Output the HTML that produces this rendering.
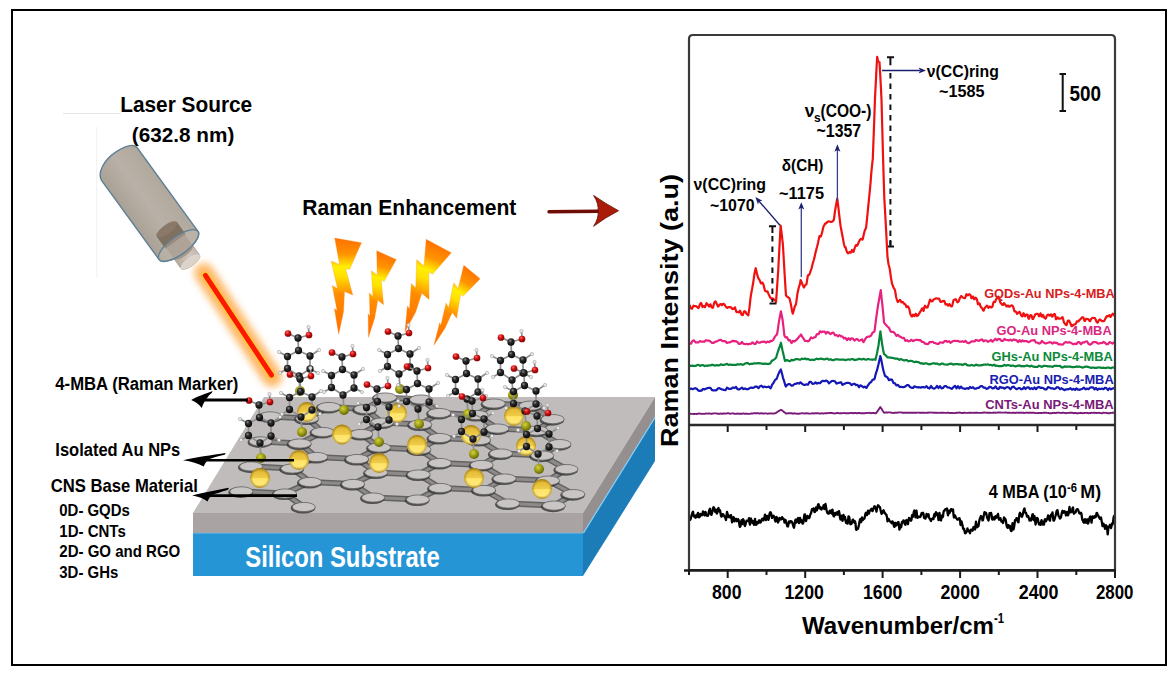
<!DOCTYPE html>
<html><head><meta charset="utf-8"><title>SERS schematic</title>
<style>html,body{margin:0;padding:0;background:#fff;} svg{display:block;}</style>
</head><body>
<svg width="1176" height="675" viewBox="0 0 1176 675" font-family="Liberation Sans, sans-serif" font-weight="bold">
<defs><linearGradient id="cyl" x1="0" y1="0" x2="1" y2="0">
<stop offset="0" stop-color="#aaa196"/><stop offset="0.5" stop-color="#b9b1a7"/><stop offset="1" stop-color="#b1a89d"/></linearGradient>
<linearGradient id="noz" x1="0" y1="0" x2="1" y2="0">
<stop offset="0" stop-color="#b8aca0"/><stop offset="0.6" stop-color="#cfc6bd"/><stop offset="1" stop-color="#c4bab0"/></linearGradient>
<radialGradient id="glow" cx="0.5" cy="0.5" r="0.5"><stop offset="0" stop-color="#ffb050" stop-opacity="0.9"/><stop offset="1" stop-color="#ffd8a8" stop-opacity="0"/></radialGradient>
<filter id="blur4" x="-50%" y="-50%" width="200%" height="200%"><feGaussianBlur stdDeviation="3.5"/></filter>
<filter id="blur1" x="-50%" y="-50%" width="200%" height="200%"><feGaussianBlur stdDeviation="0.8"/></filter>
<linearGradient id="bolt" x1="0" y1="0" x2="0" y2="1">
<stop offset="0" stop-color="#ff7000"/><stop offset="0.17" stop-color="#ff9400"/><stop offset="0.3" stop-color="#fff000"/><stop offset="0.4" stop-color="#ffe000"/><stop offset="0.58" stop-color="#ff8c00"/><stop offset="1" stop-color="#ff6c00"/></linearGradient><clipPath id="latclip"><polygon points="270,396 566,396 600,496 570,512 240,507 229,482"/></clipPath><linearGradient id="gold" x1="0" y1="0" x2="0" y2="1">
<stop offset="0" stop-color="#c49a20"/><stop offset="0.2" stop-color="#e4bc38"/><stop offset="0.5" stop-color="#efcc48"/><stop offset="0.53" stop-color="#ffe468"/><stop offset="0.85" stop-color="#ffe878"/><stop offset="1" stop-color="#dcb440"/></linearGradient>
<radialGradient id="goldrim" cx="0.5" cy="0.5" r="0.5"><stop offset="0.7" stop-color="#8a6608" stop-opacity="0"/><stop offset="1" stop-color="#7a5a08" stop-opacity="0.55"/></radialGradient>
<radialGradient id="sul" cx="0.4" cy="0.35" r="0.7"><stop offset="0" stop-color="#d4d43a"/><stop offset="0.6" stop-color="#8f9010"/><stop offset="1" stop-color="#5a5a08"/></radialGradient>
<radialGradient id="carb" cx="0.38" cy="0.32" r="0.75"><stop offset="0" stop-color="#8a8a8a"/><stop offset="0.35" stop-color="#2a2a2a"/><stop offset="1" stop-color="#050505"/></radialGradient>
<radialGradient id="oxy" cx="0.38" cy="0.32" r="0.75"><stop offset="0" stop-color="#ff7070"/><stop offset="0.4" stop-color="#d01010"/><stop offset="1" stop-color="#700000"/></radialGradient>
</defs>
<rect width="1176" height="675" fill="#fff"/>
<rect x="12" y="10" width="1154" height="655" fill="none" stroke="#000" stroke-width="2"/>
<polyline points="689.5,413.8 690.0,413.8 690.5,413.8 691.0,413.9 691.5,413.9 692.0,413.9 692.5,413.9 693.0,413.9 693.5,414.0 694.0,414.0 694.5,414.0 695.0,413.9 695.5,413.9 696.0,413.9 696.5,414.0 697.0,414.0 697.5,413.8 698.0,413.6 698.5,413.5 699.0,413.5 699.5,413.6 700.0,413.6 700.5,413.7 701.0,413.8 701.5,413.9 702.0,413.9 702.5,413.9 703.0,413.8 703.5,413.9 704.0,413.9 704.5,413.9 705.0,413.8 705.5,413.6 706.0,413.5 706.5,413.5 707.0,413.6 707.5,413.6 708.0,413.6 708.5,413.5 709.0,413.5 709.5,413.5 710.0,413.6 710.5,413.6 711.0,413.7 711.5,413.7 712.0,413.7 712.5,413.6 713.0,413.5 713.5,413.4 714.0,413.4 714.5,413.4 715.0,413.4 715.5,413.4 716.0,413.4 716.5,413.4 717.0,413.6 717.5,413.7 718.0,413.8 718.5,413.8 719.0,413.8 719.5,413.8 720.0,413.7 720.5,413.6 721.0,413.5 721.5,413.6 722.0,413.7 722.5,413.8 723.0,413.7 723.5,413.5 724.0,413.4 724.5,413.5 725.0,413.6 725.5,413.6 726.0,413.6 726.5,413.5 727.0,413.4 727.5,413.3 728.0,413.3 728.5,413.3 729.0,413.4 729.5,413.6 730.0,413.7 730.5,413.6 731.0,413.6 731.5,413.5 732.0,413.4 732.5,413.4 733.0,413.4 733.5,413.5 734.0,413.7 734.5,413.8 735.0,413.8 735.5,413.9 736.0,413.9 736.5,413.8 737.0,413.6 737.5,413.5 738.0,413.6 738.5,413.7 739.0,413.8 739.5,413.8 740.0,413.7 740.5,413.7 741.0,413.7 741.5,413.7 742.0,413.7 742.5,413.6 743.0,413.5 743.5,413.4 744.0,413.6 744.5,413.7 745.0,413.8 745.5,413.8 746.0,413.8 746.5,413.7 747.0,413.8 747.5,413.8 748.0,413.9 748.5,413.9 749.0,413.9 749.5,413.9 750.0,413.8 750.5,413.6 751.0,413.5 751.5,413.5 752.0,413.5 752.5,413.5 753.0,413.4 753.5,413.4 754.0,413.3 754.5,413.3 755.0,413.3 755.5,413.3 756.0,413.3 756.5,413.2 757.0,413.2 757.5,413.3 758.0,413.3 758.5,413.3 759.0,413.4 759.5,413.5 760.0,413.5 760.5,413.4 761.0,413.3 761.5,413.2 762.0,413.3 762.5,413.5 763.0,413.6 763.5,413.5 764.0,413.5 764.5,413.4 765.0,413.4 765.5,413.4 766.0,413.4 766.5,413.5 767.0,413.6 767.5,413.7 768.0,413.6 768.5,413.6 769.0,413.5 769.5,413.5 770.0,413.5 770.5,413.4 771.0,413.4 771.5,413.4 772.0,413.5 772.5,413.5 773.0,413.6 773.5,413.6 774.0,413.5 774.5,413.4 775.0,413.3 775.5,413.1 776.0,412.9 776.5,412.7 777.0,412.3 777.5,411.8 778.0,411.3 778.5,411.1 779.0,410.8 779.5,410.6 780.0,410.3 780.5,410.0 780.9,409.8 781.0,409.9 781.5,410.1 782.0,410.4 782.5,410.6 783.0,411.1 783.5,411.6 784.0,412.1 784.5,412.4 785.0,412.7 785.5,413.1 786.0,413.5 786.5,413.5 787.0,413.5 787.5,413.4 788.0,413.3 788.5,413.2 789.0,413.2 789.5,413.2 790.0,413.1 790.5,413.2 791.0,413.2 791.5,413.2 792.0,413.3 792.5,413.5 793.0,413.7 793.5,413.6 794.0,413.4 794.5,413.3 795.0,413.4 795.5,413.5 796.0,413.6 796.5,413.6 797.0,413.7 797.5,413.7 798.0,413.7 798.5,413.8 799.0,413.8 799.5,413.6 800.0,413.5 800.5,413.4 801.0,413.4 801.5,413.4 802.0,413.3 802.5,413.3 803.0,413.4 803.5,413.4 804.0,413.4 804.5,413.5 805.0,413.6 805.5,413.4 806.0,413.3 806.5,413.2 807.0,413.3 807.5,413.4 808.0,413.5 808.5,413.5 809.0,413.5 809.5,413.6 810.0,413.6 810.5,413.6 811.0,413.6 811.5,413.5 812.0,413.3 812.5,413.1 813.0,413.3 813.5,413.4 814.0,413.6 814.5,413.4 815.0,413.3 815.5,413.1 816.0,413.2 816.5,413.2 817.0,413.2 817.5,413.2 818.0,413.3 818.5,413.4 819.0,413.4 819.5,413.5 820.0,413.6 820.5,413.5 821.0,413.4 821.5,413.3 822.0,413.4 822.5,413.5 823.0,413.5 823.5,413.5 824.0,413.4 824.5,413.4 825.0,413.3 825.5,413.2 826.0,413.2 826.5,413.2 827.0,413.2 827.5,413.1 828.0,413.1 828.5,413.1 829.0,413.0 829.5,413.0 830.0,413.0 830.5,412.9 831.0,412.9 831.5,413.0 832.0,413.0 832.5,413.1 833.0,413.2 833.5,413.3 834.0,413.4 834.5,413.4 835.0,413.5 835.5,413.4 836.0,413.2 836.5,413.1 837.0,413.0 837.5,413.0 838.0,412.9 838.5,413.1 839.0,413.2 839.5,413.4 840.0,413.4 840.5,413.3 841.0,413.3 841.5,413.2 842.0,413.2 842.5,413.1 843.0,413.1 843.5,413.1 844.0,413.0 844.5,413.1 845.0,413.1 845.5,413.2 846.0,413.2 846.5,413.3 847.0,413.4 847.5,413.3 848.0,413.2 848.5,413.2 849.0,413.2 849.5,413.1 850.0,413.1 850.5,413.0 851.0,412.9 851.5,412.9 852.0,413.0 852.5,413.2 853.0,413.3 853.5,413.2 854.0,413.0 854.5,412.9 855.0,412.9 855.5,413.0 856.0,413.0 856.5,413.1 857.0,413.2 857.5,413.3 858.0,413.2 858.5,413.0 859.0,412.9 859.5,413.0 860.0,413.1 860.5,413.2 861.0,413.2 861.5,413.3 862.0,413.4 862.5,413.3 863.0,413.3 863.5,413.2 864.0,413.2 864.5,413.3 865.0,413.3 865.5,413.1 866.0,413.0 866.5,412.9 867.0,412.9 867.5,412.9 868.0,413.0 868.5,412.9 869.0,412.9 869.5,412.8 870.0,412.9 870.5,413.1 871.0,413.2 871.5,413.1 872.0,413.0 872.5,412.9 873.0,412.9 873.5,413.0 874.0,413.0 874.5,413.1 875.0,413.2 875.5,413.3 876.0,413.3 876.5,412.6 877.0,411.9 877.5,411.2 878.0,410.5 878.5,409.9 879.0,409.1 879.5,408.3 880.0,407.5 880.3,407.1 880.5,407.3 881.0,408.1 881.5,408.8 882.0,409.6 882.5,410.4 883.0,411.2 883.5,411.9 884.0,412.7 884.5,412.6 885.0,412.6 885.5,412.5 886.0,412.5 886.5,412.5 887.0,412.5 887.5,412.5 888.0,412.5 888.5,412.4 889.0,412.4 889.5,412.4 890.0,412.4 890.5,412.5 891.0,412.6 891.5,412.7 892.0,412.9 892.5,412.9 893.0,412.9 893.5,413.0 894.0,412.9 894.5,412.8 895.0,412.8 895.5,412.7 896.0,412.7 896.5,412.7 897.0,412.6 897.5,412.6 898.0,412.5 898.5,412.5 899.0,412.4 899.5,412.4 900.0,412.4 900.5,412.4 901.0,412.4 901.5,412.5 902.0,412.6 902.5,412.8 903.0,412.8 903.5,412.8 904.0,412.9 904.5,412.8 905.0,412.7 905.5,412.6 906.0,412.7 906.5,412.7 907.0,412.8 907.5,412.8 908.0,412.8 908.5,412.8 909.0,412.8 909.5,412.8 910.0,412.8 910.5,412.8 911.0,412.8 911.5,412.8 912.0,412.8 912.5,412.8 913.0,412.8 913.5,412.8 914.0,412.7 914.5,412.6 915.0,412.7 915.5,412.7 916.0,412.8 916.5,412.7 917.0,412.6 917.5,412.6 918.0,412.6 918.5,412.6 919.0,412.6 919.5,412.7 920.0,412.8 920.5,412.8 921.0,412.8 921.5,412.8 922.0,412.8 922.5,412.7 923.0,412.7 923.5,412.6 924.0,412.7 924.5,412.8 925.0,412.9 925.5,412.9 926.0,412.9 926.5,412.8 927.0,412.8 927.5,412.8 928.0,412.8 928.5,412.6 929.0,412.5 929.5,412.4 930.0,412.5 930.5,412.6 931.0,412.6 931.5,412.6 932.0,412.6 932.5,412.5 933.0,412.6 933.5,412.7 934.0,412.7 934.5,412.7 935.0,412.7 935.5,412.7 936.0,412.7 936.5,412.8 937.0,412.9 937.5,412.9 938.0,412.8 938.5,412.8 939.0,412.9 939.5,412.9 940.0,412.9 940.5,412.8 941.0,412.7 941.5,412.7 942.0,412.7 942.5,412.7 943.0,412.8 943.5,412.8 944.0,412.8 944.5,412.9 945.0,412.9 945.5,412.9 946.0,412.9 946.5,412.9 947.0,412.8 947.5,412.7 948.0,412.8 948.5,412.8 949.0,412.9 949.5,412.9 950.0,413.0 950.5,413.0 951.0,413.0 951.5,412.9 952.0,412.9 952.5,412.9 953.0,413.0 953.5,413.1 954.0,413.1 954.5,413.1 955.0,413.1 955.5,413.0 956.0,412.9 956.5,412.8 957.0,412.8 957.5,412.8 958.0,412.8 958.5,412.7 959.0,412.6 959.5,412.5 960.0,412.7 960.5,412.8 961.0,412.9 961.5,412.9 962.0,413.0 962.5,413.0 963.0,413.0 963.5,412.9 964.0,412.8 964.5,412.8 965.0,412.8 965.5,412.9 966.0,412.9 966.5,412.9 967.0,412.9 967.5,412.9 968.0,412.9 968.5,412.9 969.0,412.8 969.5,412.7 970.0,412.6 970.5,412.7 971.0,412.8 971.5,412.9 972.0,412.9 972.5,412.9 973.0,412.8 973.5,412.8 974.0,412.9 974.5,412.9 975.0,412.8 975.5,412.8 976.0,412.7 976.5,412.8 977.0,412.8 977.5,412.8 978.0,412.9 978.5,412.9 979.0,412.9 979.5,412.9 980.0,412.9 980.5,412.9 981.0,412.9 981.5,412.9 982.0,412.9 982.5,412.8 983.0,412.7 983.5,412.5 984.0,412.5 984.5,412.5 985.0,412.5 985.5,412.6 986.0,412.6 986.5,412.7 987.0,412.7 987.5,412.8 988.0,412.8 988.5,412.8 989.0,412.7 989.5,412.6 990.0,412.7 990.5,412.8 991.0,412.9 991.5,412.9 992.0,412.9 992.5,412.9 993.0,412.8 993.5,412.7 994.0,412.5 994.5,412.6 995.0,412.7 995.5,412.7 996.0,412.7 996.5,412.6 997.0,412.6 997.5,412.6 998.0,412.5 998.5,412.5 999.0,412.5 999.5,412.5 1000.0,412.5 1000.5,412.5 1001.0,412.6 1001.5,412.6 1002.0,412.6 1002.5,412.6 1003.0,412.6 1003.5,412.6 1004.0,412.6 1004.5,412.6 1005.0,412.5 1005.5,412.5 1006.0,412.5 1006.5,412.6 1007.0,412.6 1007.5,412.7 1008.0,412.7 1008.5,412.7 1009.0,412.7 1009.5,412.8 1010.0,412.8 1010.5,412.9 1011.0,412.9 1011.5,412.9 1012.0,412.9 1012.5,412.8 1013.0,412.8 1013.5,412.7 1014.0,412.8 1014.5,412.9 1015.0,413.0 1015.5,412.9 1016.0,412.7 1016.5,412.6 1017.0,412.6 1017.5,412.7 1018.0,412.7 1018.5,412.7 1019.0,412.7 1019.5,412.7 1020.0,412.7 1020.5,412.7 1021.0,412.7 1021.5,412.7 1022.0,412.6 1022.5,412.6 1023.0,412.7 1023.5,412.8 1024.0,413.0 1024.5,412.9 1025.0,412.9 1025.5,412.8 1026.0,412.7 1026.5,412.6 1027.0,412.6 1027.5,412.7 1028.0,412.8 1028.5,412.8 1029.0,412.8 1029.5,412.7 1030.0,412.6 1030.5,412.7 1031.0,412.8 1031.5,412.8 1032.0,412.8 1032.5,412.8 1033.0,412.8 1033.5,412.8 1034.0,412.8 1034.5,412.9 1035.0,413.0 1035.5,413.1 1036.0,413.1 1036.5,413.1 1037.0,413.1 1037.5,413.1 1038.0,413.0 1038.5,413.0 1039.0,412.9 1039.5,412.9 1040.0,413.0 1040.5,413.1 1041.0,413.0 1041.5,413.0 1042.0,413.0 1042.5,412.9 1043.0,412.9 1043.5,412.8 1044.0,412.8 1044.5,412.7 1045.0,412.7 1045.5,412.7 1046.0,412.8 1046.5,412.9 1047.0,412.9 1047.5,412.9 1048.0,412.9 1048.5,413.0 1049.0,413.1 1049.5,413.2 1050.0,413.2 1050.5,413.2 1051.0,413.2 1051.5,413.2 1052.0,413.1 1052.5,413.0 1053.0,413.0 1053.5,412.9 1054.0,412.8 1054.5,412.9 1055.0,413.0 1055.5,413.1 1056.0,413.0 1056.5,412.8 1057.0,412.7 1057.5,412.6 1058.0,412.6 1058.5,412.6 1059.0,412.7 1059.5,412.8 1060.0,412.9 1060.5,412.9 1061.0,412.9 1061.5,413.0 1062.0,412.9 1062.5,412.8 1063.0,412.7 1063.5,412.8 1064.0,412.9 1064.5,412.9 1065.0,413.0 1065.5,413.1 1066.0,413.2 1066.5,413.1 1067.0,413.0 1067.5,412.9 1068.0,412.9 1068.5,412.9 1069.0,412.9 1069.5,412.8 1070.0,412.8 1070.5,412.7 1071.0,412.8 1071.5,412.8 1072.0,412.8 1072.5,412.9 1073.0,413.0 1073.5,413.2 1074.0,413.1 1074.5,413.0 1075.0,412.9 1075.5,413.0 1076.0,413.1 1076.5,413.2 1077.0,413.2 1077.5,413.2 1078.0,413.3 1078.5,413.2 1079.0,413.1 1079.5,413.1 1080.0,413.0 1080.5,412.9 1081.0,412.8 1081.5,413.0 1082.0,413.1 1082.5,413.2 1083.0,413.1 1083.5,413.1 1084.0,413.0 1084.5,413.0 1085.0,412.9 1085.5,412.9 1086.0,412.9 1086.5,412.9 1087.0,412.8 1087.5,413.0 1088.0,413.1 1088.5,413.2 1089.0,413.1 1089.5,413.1 1090.0,413.0 1090.5,413.0 1091.0,412.9 1091.5,412.8 1092.0,412.9 1092.5,412.9 1093.0,412.9 1093.5,412.9 1094.0,412.8 1094.5,412.7 1095.0,412.8 1095.5,412.9 1096.0,413.0 1096.5,413.0 1097.0,413.0 1097.5,412.9 1098.0,412.9 1098.5,412.9 1099.0,412.8 1099.5,412.9 1100.0,413.0 1100.5,413.1 1101.0,413.1 1101.5,413.2 1102.0,413.2 1102.5,413.1 1103.0,412.9 1103.5,412.7 1104.0,412.8 1104.5,412.9 1105.0,412.9 1105.5,412.9 1106.0,412.9 1106.5,412.8 1107.0,413.0 1107.5,413.1 1108.0,413.2 1108.5,413.2 1109.0,413.2 1109.5,413.2 1110.0,413.1 1110.5,413.0 1111.0,412.9 1111.5,412.9 1112.0,412.9 1112.5,412.8 1113.0,412.8 1113.5,412.8 1114.0,412.8 1114.5,412.9" fill="none" stroke="#7a1a78" stroke-width="1.9" stroke-linejoin="round"/>
<polyline points="689.5,389.2 690.0,389.0 690.5,388.8 691.0,388.5 691.5,388.8 692.0,389.0 692.5,389.2 693.0,389.0 693.5,388.8 694.0,388.6 694.5,388.5 695.0,388.3 695.5,388.2 696.0,388.4 696.5,388.7 697.0,389.0 697.5,389.6 698.0,390.2 698.5,390.7 699.0,390.7 699.5,390.8 700.0,390.8 700.5,390.7 701.0,390.7 701.5,390.6 702.0,390.1 702.5,389.5 703.0,388.9 703.5,389.1 704.0,389.2 704.5,389.4 705.0,389.2 705.5,388.9 706.0,388.7 706.5,388.5 707.0,388.3 707.5,388.2 708.0,388.0 708.5,387.9 709.0,387.8 709.5,387.9 710.0,387.9 710.5,388.0 711.0,388.7 711.5,389.4 712.0,390.1 712.5,390.2 713.0,390.3 713.5,390.3 714.0,390.3 714.5,390.3 715.0,390.3 715.5,390.3 716.0,390.2 716.5,390.2 717.0,389.6 717.5,388.9 718.0,388.3 718.5,388.3 719.0,388.2 719.5,388.2 720.0,388.4 720.5,388.7 721.0,389.0 721.5,389.2 722.0,389.4 722.5,389.5 723.0,389.7 723.5,389.8 724.0,390.0 724.5,390.0 725.0,390.1 725.5,390.1 726.0,389.3 726.5,388.5 727.0,387.7 727.5,388.0 728.0,388.3 728.5,388.7 729.0,388.8 729.5,388.9 730.0,389.0 730.5,388.9 731.0,388.7 731.5,388.6 732.0,388.2 732.5,387.8 733.0,387.5 733.5,387.6 734.0,387.8 734.5,388.0 735.0,387.7 735.5,387.3 736.0,387.0 736.5,387.7 737.0,388.5 737.5,389.2 738.0,389.3 738.5,389.4 739.0,389.5 739.5,389.2 740.0,388.9 740.5,388.6 741.0,388.3 741.5,387.9 742.0,387.6 742.5,388.1 743.0,388.6 743.5,389.1 744.0,388.9 744.5,388.7 745.0,388.4 745.5,388.7 746.0,388.9 746.5,389.2 747.0,389.2 747.5,389.2 748.0,389.2 748.5,388.9 749.0,388.5 749.5,388.2 750.0,388.0 750.5,387.8 751.0,387.6 751.5,387.7 752.0,387.8 752.5,387.9 753.0,387.8 753.5,387.6 754.0,387.5 754.5,387.2 755.0,386.8 755.5,386.5 756.0,386.6 756.5,386.6 757.0,386.7 757.5,387.2 758.0,387.7 758.5,388.2 759.0,387.5 759.5,386.9 760.0,386.2 760.5,386.0 761.0,385.9 761.5,385.7 762.0,386.2 762.5,386.7 763.0,387.3 763.5,387.0 764.0,386.8 764.5,386.6 765.0,386.8 765.5,386.9 766.0,387.1 766.5,387.1 767.0,387.1 767.5,387.0 768.0,386.9 768.5,386.7 769.0,386.6 769.5,387.2 770.0,387.8 770.5,388.4 771.0,387.7 771.5,386.3 772.0,384.9 772.5,384.2 773.0,383.5 773.5,382.8 774.0,381.9 774.5,381.0 775.0,380.0 775.5,379.6 776.0,379.3 776.5,378.9 777.0,377.9 777.5,376.5 778.0,375.1 778.5,373.9 779.0,372.8 779.5,371.6 780.0,370.9 780.5,370.1 780.9,369.5 781.0,370.0 781.5,371.8 782.0,373.7 782.5,375.5 783.0,377.8 783.5,379.3 784.0,380.7 784.5,382.5 785.0,384.2 785.5,385.9 786.0,386.5 786.5,385.7 787.0,385.0 787.5,384.7 788.0,384.4 788.5,384.1 789.0,384.1 789.5,384.2 790.0,384.2 790.5,384.7 791.0,385.2 791.5,385.7 792.0,385.6 792.5,385.5 793.0,385.4 793.5,384.9 794.0,384.5 794.5,384.0 795.0,383.9 795.5,383.9 796.0,383.8 796.5,383.6 797.0,383.3 797.5,383.1 798.0,383.3 798.5,383.4 799.0,383.6 799.5,383.2 800.0,382.7 800.5,382.3 801.0,382.8 801.5,383.3 802.0,383.8 802.5,384.1 803.0,384.4 803.5,384.7 804.0,384.8 804.5,384.9 805.0,385.0 805.5,384.8 806.0,384.6 806.5,384.3 807.0,384.5 807.5,384.6 808.0,384.7 808.5,383.8 809.0,382.9 809.5,381.9 810.0,381.9 810.5,381.9 811.0,381.9 811.5,382.6 812.0,383.2 812.5,383.9 813.0,383.8 813.5,383.7 814.0,383.7 814.5,383.3 815.0,382.9 815.5,382.4 816.0,382.8 816.5,383.2 817.0,383.6 817.5,383.4 818.0,383.1 818.5,382.9 819.0,383.0 819.5,383.1 820.0,383.2 820.5,382.6 821.0,382.1 821.5,381.6 822.0,381.3 822.5,381.0 823.0,380.8 823.5,380.9 824.0,381.1 824.5,381.2 825.0,380.9 825.5,380.7 826.0,380.5 826.5,380.8 827.0,381.0 827.5,381.3 828.0,382.0 828.5,382.6 829.0,383.3 829.5,382.9 830.0,382.5 830.5,382.1 831.0,381.7 831.5,381.3 832.0,381.0 832.5,381.0 833.0,380.9 833.5,380.9 834.0,381.1 834.5,381.3 835.0,381.4 835.5,382.1 836.0,382.8 836.5,383.6 837.0,383.4 837.5,383.2 838.0,383.0 838.5,382.9 839.0,382.8 839.5,382.7 840.0,382.6 840.5,382.4 841.0,382.2 841.5,383.1 842.0,384.0 842.5,384.9 843.0,384.6 843.5,384.3 844.0,384.1 844.5,383.8 845.0,383.6 845.5,383.3 846.0,383.2 846.5,383.0 847.0,382.9 847.5,382.9 848.0,382.9 848.5,382.9 849.0,383.0 849.5,383.2 850.0,383.3 850.5,383.9 851.0,384.5 851.5,385.1 852.0,384.8 852.5,384.5 853.0,384.1 853.5,384.0 854.0,383.9 854.5,383.7 855.0,384.2 855.5,384.6 856.0,385.1 856.5,385.0 857.0,384.9 857.5,384.9 858.0,385.6 858.5,386.4 859.0,387.2 859.5,386.6 860.0,385.9 860.5,385.3 861.0,385.6 861.5,385.9 862.0,386.2 862.5,386.5 863.0,386.9 863.5,387.3 864.0,387.0 864.5,386.8 865.0,386.6 865.5,387.2 866.0,387.7 866.5,387.8 867.0,387.0 867.5,386.2 868.0,385.4 868.5,384.6 869.0,383.9 869.5,383.1 870.0,382.8 870.5,382.5 871.0,382.1 871.5,381.3 872.0,380.6 872.5,379.8 873.0,379.7 873.5,379.5 874.0,379.4 874.5,378.9 874.6,378.8 875.0,377.0 875.5,374.8 876.0,373.2 876.5,371.7 877.0,370.2 877.5,368.2 878.0,366.1 878.5,364.3 879.0,362.0 879.5,359.7 880.0,357.5 880.3,356.0 880.5,356.8 881.0,358.8 881.5,360.9 882.0,363.6 882.5,366.3 883.0,368.9 883.5,370.7 884.0,372.5 884.5,374.2 885.0,375.9 885.5,376.2 886.0,376.5 886.5,376.8 887.0,377.1 887.5,377.4 888.0,378.4 888.5,379.3 889.0,380.2 889.5,380.0 890.0,379.7 890.5,379.4 891.0,379.5 891.5,379.6 892.0,379.6 892.5,380.8 893.0,381.9 893.5,383.0 894.0,383.1 894.5,383.3 895.0,383.4 895.5,384.1 896.0,384.8 896.5,385.5 897.0,385.3 897.5,385.1 898.0,384.9 898.5,385.6 899.0,386.3 899.5,386.9 900.0,387.1 900.5,386.9 901.0,386.8 901.5,386.9 902.0,387.0 902.5,387.1 903.0,387.1 903.5,387.1 904.0,387.1 904.5,386.9 905.0,386.6 905.5,386.4 906.0,385.9 906.5,385.5 907.0,385.0 907.5,385.0 908.0,385.1 908.5,385.1 909.0,385.8 909.5,386.4 910.0,387.1 910.5,387.3 911.0,387.5 911.5,387.7 912.0,387.8 912.5,387.9 913.0,388.0 913.5,387.4 914.0,386.9 914.5,386.3 915.0,386.5 915.5,386.7 916.0,386.9 916.5,387.1 917.0,387.3 917.5,387.5 918.0,387.4 918.5,387.3 919.0,387.2 919.5,387.4 920.0,387.5 920.5,387.7 921.0,387.5 921.5,387.2 922.0,387.0 922.5,387.1 923.0,387.1 923.5,387.2 924.0,387.3 924.5,387.3 925.0,387.4 925.5,387.0 926.0,386.6 926.5,386.2 927.0,386.8 927.5,387.4 928.0,387.9 928.5,388.1 929.0,388.3 929.5,388.5 930.0,387.7 930.5,386.8 931.0,386.0 931.5,386.7 932.0,387.4 932.5,388.1 933.0,388.3 933.5,388.5 934.0,388.6 934.5,388.4 935.0,388.2 935.5,387.9 936.0,387.2 936.5,386.6 937.0,385.9 937.5,386.6 938.0,387.3 938.5,388.0 939.0,387.4 939.5,386.8 940.0,386.2 940.5,386.9 941.0,387.6 941.5,388.3 942.0,388.2 942.5,388.1 943.0,388.0 943.5,387.4 944.0,386.8 944.5,386.1 945.0,386.1 945.5,386.0 946.0,386.0 946.5,386.5 947.0,386.9 947.5,387.4 948.0,387.5 948.5,387.5 949.0,387.6 949.5,387.8 950.0,388.0 950.5,388.2 951.0,388.4 951.5,388.7 952.0,388.9 952.5,388.3 953.0,387.6 953.5,387.0 954.0,386.6 954.5,386.2 955.0,385.8 955.5,386.7 956.0,387.5 956.5,388.3 957.0,387.6 957.5,386.9 958.0,386.2 958.5,386.9 959.0,387.6 959.5,388.3 960.0,387.7 960.5,387.1 961.0,386.6 961.5,387.1 962.0,387.7 962.5,388.2 963.0,388.3 963.5,388.4 964.0,388.6 964.5,388.7 965.0,388.8 965.5,388.9 966.0,388.6 966.5,388.4 967.0,388.1 967.5,388.3 968.0,388.6 968.5,388.8 969.0,388.2 969.5,387.6 970.0,387.0 970.5,387.3 971.0,387.7 971.5,388.0 972.0,387.7 972.5,387.5 973.0,387.2 973.5,387.7 974.0,388.2 974.5,388.7 975.0,388.7 975.5,388.7 976.0,388.7 976.5,388.4 977.0,388.1 977.5,387.9 978.0,387.8 978.5,387.8 979.0,387.8 979.5,387.3 980.0,386.8 980.5,386.3 981.0,386.2 981.5,386.1 982.0,386.0 982.5,386.5 983.0,387.0 983.5,387.6 984.0,387.6 984.5,387.6 985.0,387.7 985.5,388.1 986.0,388.4 986.5,388.8 987.0,388.7 987.5,388.5 988.0,388.4 988.5,387.9 989.0,387.4 989.5,386.8 990.0,386.9 990.5,387.1 991.0,387.2 991.5,387.6 992.0,388.0 992.5,388.5 993.0,388.3 993.5,388.2 994.0,388.1 994.5,387.5 995.0,387.0 995.5,386.4 996.0,387.1 996.5,387.8 997.0,388.5 997.5,388.7 998.0,388.9 998.5,389.0 999.0,388.3 999.5,387.6 1000.0,386.9 1000.5,387.2 1001.0,387.5 1001.5,387.8 1002.0,387.7 1002.5,387.6 1003.0,387.5 1003.5,387.9 1004.0,388.3 1004.5,388.7 1005.0,388.3 1005.5,387.9 1006.0,387.6 1006.5,387.4 1007.0,387.2 1007.5,387.1 1008.0,387.3 1008.5,387.5 1009.0,387.7 1009.5,388.2 1010.0,388.8 1010.5,389.3 1011.0,388.6 1011.5,387.9 1012.0,387.1 1012.5,387.0 1013.0,386.8 1013.5,386.6 1014.0,387.1 1014.5,387.6 1015.0,388.0 1015.5,388.4 1016.0,388.8 1016.5,389.2 1017.0,388.9 1017.5,388.7 1018.0,388.4 1018.5,388.2 1019.0,388.1 1019.5,388.0 1020.0,388.3 1020.5,388.7 1021.0,389.1 1021.5,389.2 1022.0,389.2 1022.5,389.2 1023.0,388.5 1023.5,387.8 1024.0,387.1 1024.5,387.7 1025.0,388.4 1025.5,389.0 1026.0,388.5 1026.5,388.0 1027.0,387.5 1027.5,387.4 1028.0,387.4 1028.5,387.4 1029.0,387.9 1029.5,388.5 1030.0,389.0 1030.5,388.7 1031.0,388.4 1031.5,388.2 1032.0,388.5 1032.5,388.8 1033.0,389.1 1033.5,388.5 1034.0,388.0 1034.5,387.4 1035.0,388.0 1035.5,388.6 1036.0,389.2 1036.5,388.6 1037.0,388.1 1037.5,387.5 1038.0,387.3 1038.5,387.2 1039.0,387.0 1039.5,387.3 1040.0,387.6 1040.5,388.0 1041.0,387.9 1041.5,387.8 1042.0,387.7 1042.5,387.9 1043.0,388.1 1043.5,388.3 1044.0,388.7 1044.5,389.1 1045.0,389.5 1045.5,389.4 1046.0,389.4 1046.5,389.3 1047.0,388.5 1047.5,387.8 1048.0,387.1 1048.5,387.2 1049.0,387.4 1049.5,387.5 1050.0,387.8 1050.5,388.0 1051.0,388.3 1051.5,388.3 1052.0,388.3 1052.5,388.3 1053.0,388.6 1053.5,388.8 1054.0,389.0 1054.5,388.9 1055.0,388.7 1055.5,388.5 1056.0,388.1 1056.5,387.6 1057.0,387.2 1057.5,387.3 1058.0,387.3 1058.5,387.4 1059.0,388.0 1059.5,388.6 1060.0,389.2 1060.5,388.9 1061.0,388.6 1061.5,388.2 1062.0,388.6 1062.5,388.9 1063.0,389.2 1063.5,389.5 1064.0,389.8 1064.5,390.2 1065.0,389.9 1065.5,389.6 1066.0,389.3 1066.5,389.3 1067.0,389.3 1067.5,389.3 1068.0,389.2 1068.5,389.1 1069.0,389.1 1069.5,388.8 1070.0,388.4 1070.5,388.1 1071.0,388.7 1071.5,389.2 1072.0,389.7 1072.5,389.4 1073.0,389.1 1073.5,388.8 1074.0,389.2 1074.5,389.5 1075.0,389.9 1075.5,389.4 1076.0,388.9 1076.5,388.4 1077.0,388.8 1077.5,389.2 1078.0,389.7 1078.5,389.7 1079.0,389.7 1079.5,389.8 1080.0,389.6 1080.5,389.5 1081.0,389.3 1081.5,389.1 1082.0,388.9 1082.5,388.7 1083.0,388.3 1083.5,388.0 1084.0,387.6 1084.5,388.2 1085.0,388.7 1085.5,389.3 1086.0,389.0 1086.5,388.7 1087.0,388.5 1087.5,388.7 1088.0,388.9 1088.5,389.2 1089.0,388.7 1089.5,388.2 1090.0,387.8 1090.5,387.6 1091.0,387.4 1091.5,387.3 1092.0,387.3 1092.5,387.3 1093.0,387.3 1093.5,388.0 1094.0,388.7 1094.5,389.4 1095.0,388.9 1095.5,388.4 1096.0,388.0 1096.5,388.6 1097.0,389.2 1097.5,389.8 1098.0,389.5 1098.5,389.1 1099.0,388.7 1099.5,388.8 1100.0,388.9 1100.5,389.1 1101.0,388.9 1101.5,388.7 1102.0,388.5 1102.5,388.7 1103.0,388.9 1103.5,389.2 1104.0,388.7 1104.5,388.2 1105.0,387.7 1105.5,387.9 1106.0,388.1 1106.5,388.3 1107.0,388.9 1107.5,389.5 1108.0,390.1 1108.5,389.5 1109.0,388.9 1109.5,388.3 1110.0,388.6 1110.5,388.9 1111.0,389.3 1111.5,389.0 1112.0,388.8 1112.5,388.5 1113.0,388.4 1113.5,388.4 1114.0,388.3 1114.5,388.0" fill="none" stroke="#1418b4" stroke-width="2.2" stroke-linejoin="round"/>
<polyline points="689.5,365.6 690.0,365.7 690.5,365.8 691.0,365.9 691.5,365.8 692.0,365.7 692.5,365.7 693.0,365.8 693.5,365.8 694.0,365.9 694.5,365.9 695.0,366.0 695.5,366.0 696.0,365.7 696.5,365.4 697.0,365.1 697.5,365.0 698.0,364.9 698.5,364.8 699.0,365.1 699.5,365.5 700.0,365.9 700.5,365.7 701.0,365.5 701.5,365.2 702.0,365.2 702.5,365.1 703.0,365.0 703.5,365.4 704.0,365.7 704.5,366.1 705.0,365.9 705.5,365.7 706.0,365.5 706.5,365.6 707.0,365.7 707.5,365.8 708.0,365.7 708.5,365.5 709.0,365.4 709.5,365.4 710.0,365.4 710.5,365.4 711.0,365.2 711.5,364.9 712.0,364.7 712.5,364.8 713.0,365.0 713.5,365.2 714.0,365.3 714.5,365.5 715.0,365.6 715.5,365.5 716.0,365.3 716.5,365.2 717.0,365.2 717.5,365.3 718.0,365.3 718.5,365.3 719.0,365.3 719.5,365.2 720.0,364.9 720.5,364.6 721.0,364.3 721.5,364.5 722.0,364.8 722.5,365.0 723.0,365.0 723.5,364.9 724.0,364.9 724.5,364.7 725.0,364.6 725.5,364.4 726.0,364.2 726.5,364.0 727.0,363.8 727.5,364.2 728.0,364.5 728.5,364.9 729.0,364.8 729.5,364.7 730.0,364.5 730.5,364.6 731.0,364.7 731.5,364.8 732.0,364.9 732.5,364.9 733.0,365.0 733.5,364.9 734.0,364.9 734.5,364.8 735.0,364.9 735.5,364.9 736.0,365.0 736.5,364.8 737.0,364.5 737.5,364.2 738.0,364.4 738.5,364.5 739.0,364.6 739.5,364.4 740.0,364.3 740.5,364.1 741.0,364.3 741.5,364.5 742.0,364.7 742.5,364.7 743.0,364.7 743.5,364.7 744.0,364.3 744.5,363.9 745.0,363.5 745.5,363.4 746.0,363.3 746.5,363.2 747.0,363.2 747.5,363.2 748.0,363.2 748.5,363.6 749.0,363.9 749.5,364.3 750.0,364.1 750.5,363.9 751.0,363.7 751.5,363.8 752.0,363.8 752.5,363.8 753.0,363.7 753.5,363.5 754.0,363.3 754.5,363.4 755.0,363.4 755.5,363.5 756.0,363.4 756.5,363.4 757.0,363.3 757.5,363.3 758.0,363.2 758.5,363.2 759.0,363.2 759.5,363.3 760.0,363.4 760.5,363.4 761.0,363.4 761.5,363.5 762.0,363.6 762.5,363.8 763.0,363.9 763.5,363.8 764.0,363.7 764.5,363.6 765.0,363.7 765.5,363.8 766.0,363.9 766.5,363.9 767.0,363.8 767.5,363.8 768.0,363.9 768.5,363.9 769.0,364.0 769.5,363.8 770.0,363.6 770.5,363.0 771.0,362.2 771.5,361.4 772.0,360.6 772.5,360.4 773.0,360.2 773.5,359.9 774.0,359.6 774.5,359.2 775.0,358.8 775.5,358.3 776.0,357.8 776.5,356.3 777.0,354.6 777.5,353.0 778.0,351.3 778.5,349.8 779.0,348.4 779.5,347.1 780.0,345.5 780.5,344.0 780.9,342.7 781.0,343.1 781.5,345.5 782.0,348.0 782.5,350.4 783.0,352.5 783.5,354.7 784.0,356.8 784.5,358.9 785.0,360.9 785.5,360.7 786.0,360.5 786.5,360.2 787.0,360.0 787.5,360.3 788.0,360.6 788.5,360.9 789.0,361.0 789.5,361.1 790.0,361.2 790.5,360.7 791.0,360.2 791.5,359.8 792.0,360.0 792.5,360.2 793.0,360.3 793.5,360.2 794.0,360.0 794.5,359.8 795.0,359.5 795.5,359.3 796.0,359.1 796.5,359.1 797.0,359.0 797.5,359.0 798.0,359.2 798.5,359.4 799.0,359.5 799.5,359.6 800.0,359.6 800.5,359.7 801.0,359.2 801.5,358.9 802.0,358.5 802.5,358.7 803.0,358.9 803.5,359.1 804.0,358.9 804.5,358.6 805.0,358.4 805.5,358.7 806.0,359.0 806.5,359.3 807.0,359.2 807.5,359.0 808.0,358.9 808.5,359.2 809.0,359.4 809.5,359.7 810.0,359.8 810.5,359.9 811.0,360.1 811.5,359.9 812.0,359.7 812.5,359.5 813.0,359.7 813.5,359.9 814.0,360.1 814.5,359.8 815.0,359.5 815.5,359.2 816.0,359.0 816.5,358.8 817.0,358.7 817.5,358.9 818.0,359.1 818.5,359.3 819.0,359.1 819.5,358.9 820.0,358.7 820.5,358.7 821.0,358.7 821.5,358.8 822.0,358.9 822.5,359.0 823.0,359.1 823.5,359.2 824.0,359.4 824.5,359.5 825.0,359.3 825.5,359.1 826.0,358.9 826.5,358.8 827.0,358.7 827.5,358.6 828.0,359.0 828.5,359.4 829.0,359.8 829.5,359.6 830.0,359.4 830.5,359.2 831.0,359.5 831.5,359.8 832.0,360.1 832.5,360.1 833.0,360.1 833.5,360.2 834.0,359.9 834.5,359.7 835.0,359.4 835.5,359.4 836.0,359.4 836.5,359.4 837.0,359.4 837.5,359.4 838.0,359.4 838.5,359.5 839.0,359.6 839.5,359.7 840.0,359.6 840.5,359.6 841.0,359.6 841.5,359.6 842.0,359.6 842.5,359.6 843.0,359.6 843.5,359.6 844.0,359.7 844.5,359.8 845.0,360.0 845.5,360.2 846.0,360.0 846.5,359.8 847.0,359.6 847.5,359.6 848.0,359.5 848.5,359.4 849.0,359.5 849.5,359.6 850.0,359.8 850.5,359.6 851.0,359.4 851.5,359.1 852.0,359.1 852.5,359.1 853.0,359.1 853.5,359.4 854.0,359.7 854.5,360.1 855.0,359.9 855.5,359.8 856.0,359.7 856.5,359.6 857.0,359.6 857.5,359.6 858.0,359.3 858.5,359.0 859.0,358.8 859.5,358.9 860.0,359.0 860.5,359.2 861.0,359.3 861.5,359.4 862.0,359.5 862.5,359.3 863.0,359.0 863.5,358.8 864.0,359.0 864.5,359.2 865.0,359.5 865.5,359.5 866.0,359.6 866.5,359.7 867.0,359.4 867.5,359.1 868.0,358.9 868.5,359.1 869.0,359.3 869.5,359.5 870.0,359.5 870.5,359.5 871.0,359.5 871.5,359.6 872.0,359.7 872.5,359.8 873.0,359.6 873.5,359.5 874.0,359.3 874.5,359.5 875.0,359.6 875.5,359.8 876.0,357.6 876.5,355.4 877.0,353.2 877.5,350.6 878.0,348.0 878.5,345.4 879.0,341.6 879.5,337.9 880.0,334.1 880.4,331.4 880.5,332.2 881.0,335.9 881.5,339.6 882.0,343.3 882.5,346.2 883.0,349.2 883.5,351.7 884.0,354.1 884.5,354.2 885.0,354.7 885.5,355.2 886.0,355.6 886.5,356.1 887.0,356.7 887.5,357.2 888.0,357.5 888.5,357.5 889.0,357.4 889.5,357.5 890.0,357.6 890.5,357.7 891.0,357.7 891.5,357.8 892.0,357.8 892.5,357.9 893.0,358.0 893.5,358.1 894.0,358.3 894.5,358.5 895.0,358.7 895.5,358.7 896.0,358.7 896.5,358.6 897.0,358.7 897.5,358.8 898.0,358.9 898.5,359.2 899.0,359.5 899.5,359.8 900.0,359.5 900.5,359.3 901.0,359.1 901.5,359.3 902.0,359.6 902.5,359.9 903.0,360.1 903.5,360.3 904.0,360.5 904.5,360.4 905.0,360.3 905.5,360.2 906.0,360.2 906.5,360.2 907.0,360.2 907.5,360.6 908.0,360.9 908.5,361.3 909.0,361.1 909.5,361.0 910.0,360.9 910.5,360.9 911.0,360.9 911.5,360.9 912.0,361.1 912.5,361.3 913.0,361.5 913.5,361.7 914.0,361.9 914.5,362.2 915.0,362.0 915.5,361.8 916.0,361.7 916.5,361.8 917.0,361.9 917.5,362.0 918.0,362.1 918.5,362.2 919.0,362.3 919.5,362.7 920.0,363.0 920.5,363.4 921.0,363.3 921.5,363.3 922.0,363.2 922.5,363.5 923.0,363.7 923.5,364.0 924.0,363.8 924.5,363.6 925.0,363.3 925.5,363.4 926.0,363.4 926.5,363.4 927.0,363.6 927.5,363.7 928.0,363.9 928.5,364.1 929.0,364.2 929.5,364.4 930.0,364.2 930.5,364.1 931.0,363.9 931.5,363.8 932.0,363.6 932.5,363.5 933.0,363.4 933.5,363.3 934.0,363.2 934.5,363.4 935.0,363.6 935.5,363.8 936.0,363.7 936.5,363.6 937.0,363.5 937.5,363.8 938.0,364.1 938.5,364.3 939.0,364.4 939.5,364.5 940.0,364.6 940.5,364.3 941.0,364.0 941.5,363.7 942.0,363.7 942.5,363.7 943.0,363.7 943.5,364.0 944.0,364.2 944.5,364.5 945.0,364.5 945.5,364.5 946.0,364.5 946.5,364.6 947.0,364.7 947.5,364.7 948.0,364.5 948.5,364.3 949.0,364.1 949.5,364.0 950.0,363.8 950.5,363.7 951.0,363.7 951.5,363.8 952.0,363.9 952.5,364.1 953.0,364.4 953.5,364.7 954.0,364.5 954.5,364.3 955.0,364.1 955.5,364.1 956.0,364.1 956.5,364.1 957.0,364.2 957.5,364.2 958.0,364.2 958.5,364.3 959.0,364.3 959.5,364.3 960.0,364.3 960.5,364.3 961.0,364.3 961.5,364.6 962.0,364.9 962.5,365.1 963.0,364.8 963.5,364.5 964.0,364.2 964.5,364.1 965.0,363.9 965.5,363.8 966.0,364.2 966.5,364.7 967.0,365.1 967.5,365.2 968.0,365.3 968.5,365.4 969.0,365.5 969.5,365.5 970.0,365.6 970.5,365.4 971.0,365.1 971.5,364.9 972.0,365.1 972.5,365.3 973.0,365.5 973.5,365.5 974.0,365.6 974.5,365.6 975.0,365.3 975.5,365.0 976.0,364.6 976.5,364.8 977.0,365.0 977.5,365.2 978.0,365.3 978.5,365.4 979.0,365.5 979.5,365.5 980.0,365.4 980.5,365.3 981.0,365.3 981.5,365.2 982.0,365.1 982.5,365.0 983.0,364.9 983.5,364.7 984.0,364.7 984.5,364.7 985.0,364.7 985.5,364.7 986.0,364.7 986.5,364.6 987.0,364.5 987.5,364.4 988.0,364.4 988.5,364.6 989.0,364.9 989.5,365.1 990.0,365.0 990.5,364.9 991.0,364.9 991.5,365.1 992.0,365.4 992.5,365.6 993.0,365.3 993.5,365.0 994.0,364.7 994.5,365.0 995.0,365.4 995.5,365.8 996.0,365.7 996.5,365.7 997.0,365.7 997.5,365.9 998.0,366.0 998.5,366.1 999.0,366.1 999.5,366.2 1000.0,366.2 1000.5,366.2 1001.0,366.2 1001.5,366.2 1002.0,366.1 1002.5,365.9 1003.0,365.8 1003.5,365.5 1004.0,365.2 1004.5,364.8 1005.0,365.1 1005.5,365.4 1006.0,365.7 1006.5,365.5 1007.0,365.3 1007.5,365.1 1008.0,365.1 1008.5,365.2 1009.0,365.2 1009.5,365.4 1010.0,365.6 1010.5,365.8 1011.0,365.8 1011.5,365.8 1012.0,365.7 1012.5,365.7 1013.0,365.6 1013.5,365.6 1014.0,365.9 1014.5,366.1 1015.0,366.4 1015.5,366.3 1016.0,366.2 1016.5,366.1 1017.0,365.9 1017.5,365.8 1018.0,365.6 1018.5,365.6 1019.0,365.5 1019.5,365.4 1020.0,365.7 1020.5,366.0 1021.0,366.3 1021.5,366.2 1022.0,366.1 1022.5,366.0 1023.0,366.1 1023.5,366.2 1024.0,366.4 1024.5,366.2 1025.0,366.0 1025.5,365.9 1026.0,365.8 1026.5,365.6 1027.0,365.5 1027.5,365.7 1028.0,365.8 1028.5,366.0 1029.0,366.2 1029.5,366.3 1030.0,366.5 1030.5,366.3 1031.0,366.0 1031.5,365.7 1032.0,366.0 1032.5,366.2 1033.0,366.5 1033.5,366.6 1034.0,366.8 1034.5,366.9 1035.0,366.9 1035.5,366.9 1036.0,366.9 1036.5,366.9 1037.0,366.9 1037.5,366.9 1038.0,366.5 1038.5,366.1 1039.0,365.7 1039.5,365.9 1040.0,366.1 1040.5,366.4 1041.0,366.5 1041.5,366.7 1042.0,366.9 1042.5,366.6 1043.0,366.2 1043.5,365.8 1044.0,365.9 1044.5,365.9 1045.0,365.9 1045.5,366.0 1046.0,366.0 1046.5,366.0 1047.0,366.1 1047.5,366.3 1048.0,366.4 1048.5,366.4 1049.0,366.4 1049.5,366.4 1050.0,366.4 1050.5,366.4 1051.0,366.5 1051.5,366.6 1052.0,366.8 1052.5,367.0 1053.0,366.6 1053.5,366.3 1054.0,366.0 1054.5,365.9 1055.0,365.9 1055.5,365.8 1056.0,365.9 1056.5,365.9 1057.0,365.9 1057.5,365.9 1058.0,366.0 1058.5,366.0 1059.0,366.0 1059.5,365.9 1060.0,365.9 1060.5,366.4 1061.0,366.8 1061.5,367.3 1062.0,367.4 1062.5,367.4 1063.0,367.5 1063.5,367.1 1064.0,366.8 1064.5,366.4 1065.0,366.5 1065.5,366.7 1066.0,366.8 1066.5,366.7 1067.0,366.7 1067.5,366.6 1068.0,366.6 1068.5,366.6 1069.0,366.6 1069.5,366.6 1070.0,366.7 1070.5,366.7 1071.0,366.8 1071.5,367.0 1072.0,367.2 1072.5,367.2 1073.0,367.2 1073.5,367.2 1074.0,367.1 1074.5,367.0 1075.0,366.9 1075.5,366.8 1076.0,366.7 1076.5,366.6 1077.0,366.7 1077.5,366.7 1078.0,366.8 1078.5,366.7 1079.0,366.6 1079.5,366.5 1080.0,366.7 1080.5,366.9 1081.0,367.1 1081.5,367.3 1082.0,367.4 1082.5,367.6 1083.0,367.4 1083.5,367.3 1084.0,367.2 1084.5,367.0 1085.0,366.8 1085.5,366.7 1086.0,366.7 1086.5,366.7 1087.0,366.7 1087.5,366.8 1088.0,366.9 1088.5,367.0 1089.0,367.2 1089.5,367.4 1090.0,367.5 1090.5,367.6 1091.0,367.8 1091.5,367.9 1092.0,367.8 1092.5,367.6 1093.0,367.4 1093.5,367.6 1094.0,367.8 1094.5,368.0 1095.0,367.9 1095.5,367.9 1096.0,367.9 1096.5,367.8 1097.0,367.7 1097.5,367.6 1098.0,367.5 1098.5,367.5 1099.0,367.4 1099.5,367.5 1100.0,367.6 1100.5,367.6 1101.0,367.7 1101.5,367.9 1102.0,368.0 1102.5,367.9 1103.0,367.8 1103.5,367.7 1104.0,367.8 1104.5,367.9 1105.0,368.1 1105.5,368.0 1106.0,367.9 1106.5,367.8 1107.0,367.7 1107.5,367.6 1108.0,367.5 1108.5,367.6 1109.0,367.7 1109.5,367.8 1110.0,368.0 1110.5,368.1 1111.0,368.2 1111.5,367.9 1112.0,367.6 1112.5,367.4 1113.0,367.5 1113.5,367.6 1114.0,367.7 1114.5,367.8" fill="none" stroke="#08843a" stroke-width="2.2" stroke-linejoin="round"/>
<polyline points="689.5,343.3 690.0,343.4 690.5,343.5 691.0,343.6 691.5,342.7 692.0,341.8 692.5,340.9 693.0,340.7 693.5,340.5 694.0,340.3 694.5,341.0 695.0,341.6 695.5,342.3 696.0,342.4 696.5,342.4 697.0,342.5 697.5,342.4 698.0,342.3 698.5,342.3 699.0,341.9 699.5,341.5 700.0,341.1 700.5,341.2 701.0,341.4 701.5,341.6 702.0,341.6 702.5,341.6 703.0,341.7 703.5,341.6 704.0,341.6 704.5,341.6 705.0,341.1 705.5,340.7 706.0,340.2 706.5,340.4 707.0,340.5 707.5,340.6 708.0,340.6 708.5,340.6 709.0,340.6 709.5,340.9 710.0,341.3 710.5,341.6 711.0,342.0 711.5,342.4 712.0,342.8 712.5,342.9 713.0,342.9 713.5,343.0 714.0,342.6 714.5,342.3 715.0,341.9 715.5,341.7 716.0,341.6 716.5,341.4 717.0,341.2 717.5,341.0 718.0,340.8 718.5,340.5 719.0,340.3 719.5,340.0 720.0,339.9 720.5,339.9 721.0,339.8 721.5,340.3 722.0,340.7 722.5,341.2 723.0,341.2 723.5,341.1 724.0,341.1 724.5,341.2 725.0,341.3 725.5,341.4 726.0,341.9 726.5,342.5 727.0,343.0 727.5,342.8 728.0,342.6 728.5,342.4 729.0,342.4 729.5,342.4 730.0,342.4 730.5,342.1 731.0,341.8 731.5,341.5 732.0,341.2 732.5,341.0 733.0,340.7 733.5,340.9 734.0,341.2 734.5,341.5 735.0,341.3 735.5,341.2 736.0,341.1 736.5,341.5 737.0,341.9 737.5,342.2 738.0,342.8 738.5,343.4 739.0,344.0 739.5,343.9 740.0,343.7 740.5,343.6 741.0,343.1 741.5,342.6 742.0,342.0 742.5,342.7 743.0,343.3 743.5,343.9 744.0,343.9 744.5,344.0 745.0,344.1 745.5,344.1 746.0,344.0 746.5,343.9 747.0,344.1 747.5,344.2 748.0,344.3 748.5,344.2 749.0,344.0 749.5,343.9 750.0,343.8 750.5,343.8 751.0,343.8 751.5,343.3 752.0,342.8 752.5,342.3 753.0,342.8 753.5,343.3 754.0,343.8 754.5,343.8 755.0,343.9 755.5,344.0 756.0,343.2 756.5,342.4 757.0,341.5 757.5,341.9 758.0,342.3 758.5,342.6 759.0,342.6 759.5,342.7 760.0,342.7 760.5,342.4 761.0,342.1 761.5,341.8 762.0,341.8 762.5,341.8 763.0,341.8 763.5,341.7 764.0,341.6 764.5,341.5 765.0,341.9 765.5,342.3 766.0,342.7 766.5,342.3 767.0,342.0 767.5,341.6 768.0,341.8 768.5,342.0 769.0,342.2 769.5,341.8 770.0,341.3 770.5,340.9 771.0,341.3 771.5,341.1 772.0,340.9 772.5,340.5 773.0,340.0 773.5,339.6 774.0,338.6 774.5,337.6 775.0,336.6 775.5,336.0 776.0,335.4 776.5,334.8 777.0,334.6 777.5,331.5 778.0,328.3 778.5,324.7 779.0,321.1 779.5,318.6 780.0,316.0 780.5,313.4 780.9,311.3 781.0,311.8 781.5,314.3 782.0,316.7 782.5,319.2 783.0,323.4 783.5,327.7 784.0,331.9 784.4,335.6 784.5,335.7 785.0,336.5 785.5,337.3 786.0,337.3 786.5,337.3 787.0,337.2 787.5,338.3 788.0,339.3 788.5,340.4 789.0,340.3 789.5,340.2 790.0,340.2 790.5,341.1 791.0,342.0 791.5,343.0 791.7,342.9 792.0,342.5 792.5,341.7 793.0,340.9 793.5,341.1 794.0,341.3 794.5,341.5 795.0,341.1 795.5,340.6 796.0,340.2 796.5,339.7 797.0,339.1 797.5,338.6 798.0,338.2 798.5,337.5 799.0,336.8 799.5,336.2 800.0,335.7 800.5,335.1 801.0,334.5 801.5,335.4 802.0,336.4 802.5,337.1 803.0,337.8 803.5,338.5 804.0,339.4 804.5,340.2 805.0,341.0 805.5,341.0 806.0,341.0 806.5,340.9 807.0,341.1 807.5,341.3 808.0,341.5 808.5,341.1 809.0,340.6 809.5,340.1 810.0,339.2 810.5,338.3 811.0,337.5 811.5,337.8 812.0,338.1 812.5,338.3 813.0,338.1 813.5,337.8 814.0,337.5 814.5,337.3 815.0,337.2 815.5,337.0 816.0,336.0 816.5,335.0 817.0,334.0 817.5,334.0 818.0,334.1 818.5,334.1 819.0,333.2 819.5,332.2 820.0,331.3 820.5,331.4 820.7,331.4 821.0,331.8 821.5,332.3 822.0,332.1 822.5,331.8 823.0,331.6 823.5,331.6 824.0,331.5 824.5,331.5 825.0,332.2 825.5,332.8 826.0,333.5 826.5,333.0 827.0,332.4 827.5,331.9 828.0,332.2 828.5,332.5 829.0,332.8 829.5,333.3 830.0,333.8 830.5,334.2 831.0,333.8 831.5,333.3 832.0,332.9 832.5,332.8 833.0,332.7 833.5,332.7 834.0,333.6 834.5,334.4 835.0,335.3 835.5,335.2 836.0,335.1 836.5,335.0 837.0,335.5 837.5,335.9 838.0,336.3 838.5,335.9 839.0,335.5 839.5,335.1 840.0,335.5 840.5,335.9 841.0,336.3 841.5,336.3 842.0,336.4 842.5,336.5 843.0,337.2 843.5,337.8 844.0,338.5 844.5,338.3 845.0,338.0 845.5,337.8 845.6,338.0 846.0,338.6 846.5,339.4 847.0,340.2 847.5,339.5 848.0,338.8 848.5,338.2 849.0,338.7 849.5,339.3 850.0,339.9 850.5,339.4 851.0,338.8 851.5,338.3 852.0,338.4 852.5,338.6 853.0,338.7 853.5,339.4 854.0,340.0 854.5,340.6 855.0,340.2 855.5,339.7 856.0,339.3 856.5,339.2 857.0,339.2 857.5,339.1 858.0,339.7 858.5,340.2 859.0,340.7 859.5,340.6 860.0,340.5 860.5,340.3 861.0,340.0 861.5,339.7 862.0,339.3 862.5,340.2 863.0,341.2 863.5,342.1 864.0,341.5 864.5,340.4 865.0,339.4 865.5,338.7 866.0,338.0 866.5,337.3 867.0,337.1 867.5,336.9 868.0,336.7 868.5,336.6 869.0,336.6 869.5,336.5 870.0,336.2 870.5,336.0 871.0,335.8 871.5,334.8 872.0,333.8 872.5,332.8 873.0,332.5 873.5,332.1 874.0,331.8 874.5,331.1 874.6,330.9 875.0,327.5 875.5,323.3 876.0,319.6 876.5,316.0 877.0,312.4 877.5,308.8 878.0,305.3 878.5,302.8 879.0,300.0 879.5,297.2 880.0,294.5 880.5,291.8 880.8,290.2 881.0,292.1 881.5,297.0 882.0,301.6 882.5,306.2 883.0,311.5 883.5,316.9 884.0,322.3 884.5,323.1 885.0,323.8 885.5,324.4 886.0,325.0 886.5,325.5 887.0,326.0 887.5,326.5 888.0,327.0 888.5,327.4 889.0,327.9 889.5,329.0 890.0,330.1 890.5,331.2 891.0,331.7 891.2,331.9 891.5,331.9 892.0,332.0 892.5,331.9 893.0,331.9 893.5,331.9 894.0,332.5 894.5,333.0 895.0,333.6 895.5,334.3 896.0,335.1 896.5,335.9 897.0,335.5 897.5,335.2 898.0,334.8 898.5,335.4 899.0,336.0 899.5,336.5 900.0,336.7 900.5,336.8 901.0,337.0 901.5,337.4 902.0,337.7 902.5,338.1 903.0,338.0 903.5,337.9 904.0,337.9 904.5,338.9 905.0,339.9 905.5,340.9 906.0,340.6 906.5,340.4 907.0,340.1 907.5,340.6 907.8,340.9 908.0,341.0 908.5,341.3 909.0,341.2 909.5,341.1 910.0,341.0 910.5,340.5 911.0,340.1 911.5,339.7 912.0,340.2 912.5,340.7 913.0,341.1 913.5,340.9 914.0,340.6 914.5,340.3 915.0,340.2 915.5,340.0 916.0,339.9 916.5,339.9 917.0,339.9 917.5,339.8 918.0,340.0 918.5,340.1 919.0,340.3 919.5,340.2 920.0,340.2 920.5,340.2 921.0,340.8 921.5,341.4 922.0,341.9 922.5,342.0 923.0,342.0 923.5,342.0 924.0,342.5 924.5,343.1 925.0,343.6 925.5,343.7 926.0,343.8 926.5,343.9 927.0,344.0 927.5,344.1 928.0,344.2 928.5,343.5 929.0,342.8 929.5,342.1 930.0,342.1 930.5,342.2 931.0,342.2 931.5,342.1 932.0,341.9 932.5,341.8 933.0,342.1 933.5,342.4 934.0,342.8 934.5,342.9 935.0,343.0 935.5,343.2 936.0,343.4 936.5,343.6 937.0,343.9 937.5,343.9 938.0,343.9 938.5,343.8 939.0,343.4 939.5,342.9 940.0,342.4 940.5,342.5 941.0,342.5 941.5,342.5 942.0,342.6 942.5,342.7 943.0,342.8 943.5,342.3 944.0,341.8 944.5,341.2 945.0,341.1 945.5,341.0 946.0,340.9 946.5,341.2 947.0,341.5 947.5,341.9 948.0,341.6 948.5,341.4 949.0,341.2 949.5,341.7 950.0,342.2 950.5,342.8 951.0,342.4 951.5,342.0 952.0,341.7 952.5,341.4 953.0,341.1 953.5,340.9 954.0,340.9 954.5,340.9 955.0,340.9 955.5,340.9 956.0,341.0 956.5,341.0 957.0,341.0 957.5,340.9 958.0,340.9 958.5,341.2 959.0,341.5 959.5,341.7 960.0,341.7 960.5,341.7 961.0,341.7 961.5,341.6 962.0,341.4 962.5,341.2 963.0,341.5 963.5,341.7 964.0,342.0 964.5,341.6 965.0,341.3 965.5,340.9 966.0,341.4 966.5,342.0 967.0,342.6 967.5,342.8 968.0,343.0 968.5,343.2 969.0,342.9 969.5,342.7 970.0,342.5 970.5,342.2 971.0,341.8 971.5,341.4 972.0,341.4 972.5,341.4 973.0,341.3 973.5,341.4 974.0,341.4 974.5,341.5 975.0,340.9 975.5,340.4 976.0,339.9 976.5,340.1 977.0,340.3 977.5,340.5 978.0,340.6 978.5,340.8 979.0,340.9 979.5,340.6 980.0,340.3 980.5,339.9 981.0,339.7 981.5,339.6 982.0,339.4 982.5,340.0 983.0,340.7 983.5,341.3 984.0,341.0 984.5,340.7 985.0,340.4 985.5,340.5 986.0,340.5 986.5,340.6 987.0,341.0 987.5,341.4 988.0,341.8 988.5,341.6 989.0,341.3 989.5,341.1 990.0,340.7 990.5,340.3 991.0,339.9 991.5,340.5 992.0,341.1 992.5,341.6 993.0,341.1 993.5,340.7 994.0,340.2 994.5,339.7 995.0,339.2 995.5,338.7 996.0,339.2 996.5,339.7 997.0,340.3 997.5,339.8 998.0,339.3 998.5,338.9 999.0,339.0 999.5,339.1 1000.0,339.2 1000.5,339.8 1001.0,340.4 1001.5,341.0 1002.0,341.0 1002.5,340.9 1003.0,340.9 1003.5,340.3 1004.0,339.7 1004.5,339.0 1005.0,339.3 1005.5,339.6 1006.0,339.9 1006.5,340.0 1007.0,340.0 1007.5,340.1 1008.0,340.2 1008.5,340.3 1009.0,340.4 1009.5,340.2 1010.0,339.9 1010.5,339.7 1011.0,340.0 1011.5,340.4 1012.0,340.7 1012.5,340.3 1013.0,339.9 1013.5,339.5 1014.0,339.6 1014.5,339.7 1015.0,339.9 1015.5,340.0 1016.0,340.1 1016.5,340.3 1017.0,340.9 1017.5,341.5 1018.0,342.1 1018.5,341.5 1019.0,340.8 1019.5,340.1 1020.0,340.6 1020.5,341.1 1021.0,341.7 1021.5,341.2 1022.0,340.8 1022.5,340.4 1023.0,340.7 1023.5,341.0 1024.0,341.3 1024.5,341.2 1025.0,341.1 1025.5,341.0 1026.0,341.1 1026.5,341.2 1027.0,341.3 1027.5,341.6 1028.0,341.9 1028.5,342.2 1029.0,342.0 1029.5,341.7 1030.0,341.5 1030.5,341.1 1031.0,340.8 1031.5,340.5 1032.0,340.4 1032.5,340.4 1033.0,340.3 1033.5,340.3 1034.0,340.2 1034.5,340.2 1035.0,341.0 1035.5,341.8 1036.0,342.5 1036.5,342.5 1037.0,342.6 1037.5,342.6 1038.0,342.9 1038.5,343.2 1039.0,343.6 1039.5,343.4 1040.0,343.2 1040.5,343.1 1041.0,342.4 1041.5,341.7 1042.0,341.0 1042.5,341.5 1043.0,342.0 1043.5,342.5 1044.0,342.7 1044.5,343.0 1045.0,343.2 1045.5,343.3 1046.0,343.3 1046.5,343.3 1047.0,343.1 1047.5,342.9 1048.0,342.7 1048.5,342.5 1049.0,342.4 1049.5,342.2 1050.0,342.3 1050.5,342.4 1051.0,342.4 1051.5,342.8 1052.0,343.2 1052.5,343.6 1053.0,343.2 1053.5,342.7 1054.0,342.3 1054.5,342.5 1055.0,342.7 1055.5,342.8 1056.0,342.9 1056.5,342.9 1057.0,342.9 1057.5,343.4 1057.8,343.7 1058.0,343.9 1058.5,344.3 1059.0,344.3 1059.5,344.3 1060.0,344.2 1060.5,344.4 1061.0,344.5 1061.5,344.6 1062.0,344.5 1062.5,344.5 1063.0,344.4 1063.5,343.9 1064.0,343.3 1064.5,342.7 1065.0,342.5 1065.5,342.3 1066.0,342.1 1066.5,342.3 1067.0,342.5 1067.5,342.7 1068.0,342.6 1068.5,342.4 1069.0,342.2 1069.5,342.3 1070.0,342.5 1070.5,342.6 1071.0,342.9 1071.5,343.2 1072.0,343.4 1072.5,343.7 1073.0,344.1 1073.5,344.4 1074.0,344.1 1074.5,343.9 1075.0,343.6 1075.5,343.8 1076.0,343.9 1076.5,344.1 1077.0,343.4 1077.5,342.7 1078.0,342.1 1078.5,342.2 1079.0,342.2 1079.5,342.3 1080.0,343.0 1080.5,343.7 1081.0,344.3 1081.5,343.6 1082.0,343.0 1082.5,342.3 1083.0,342.4 1083.5,342.5 1084.0,342.6 1084.5,342.2 1085.0,341.9 1085.5,341.6 1086.0,341.5 1086.5,341.5 1087.0,341.4 1087.5,342.2 1088.0,343.0 1088.5,343.8 1089.0,344.1 1089.5,344.4 1090.0,344.7 1090.5,344.4 1091.0,344.1 1091.5,343.9 1092.0,343.3 1092.5,342.7 1093.0,342.1 1093.5,342.1 1094.0,342.1 1094.5,342.2 1095.0,342.1 1095.5,342.0 1096.0,342.0 1096.5,342.4 1097.0,342.8 1097.5,343.3 1098.0,343.4 1098.5,343.5 1099.0,343.6 1099.5,343.4 1100.0,343.2 1100.5,343.0 1101.0,343.0 1101.5,343.0 1102.0,343.1 1102.5,342.7 1103.0,342.3 1103.5,341.9 1104.0,342.2 1104.5,342.5 1105.0,342.8 1105.5,343.3 1106.0,343.8 1106.5,344.3 1107.0,344.2 1107.5,344.2 1108.0,344.1 1108.5,343.4 1109.0,342.7 1109.5,342.1 1110.0,342.3 1110.5,342.6 1111.0,342.8 1111.5,343.1 1112.0,343.3 1112.5,343.6 1113.0,343.2 1113.5,342.8 1114.0,342.4 1114.5,343.0" fill="none" stroke="#e8207e" stroke-width="2.2" stroke-linejoin="round"/>
<polyline points="689.5,304.8 690.0,306.2 690.5,307.6 691.0,308.4 691.5,308.6 692.0,308.7 692.5,307.8 693.0,306.6 693.5,305.7 694.0,306.0 694.5,306.2 695.0,306.2 695.5,306.2 696.0,306.1 696.5,306.5 697.0,306.9 697.5,307.3 698.0,307.7 698.5,308.1 699.0,307.0 699.5,305.4 700.0,304.1 700.5,303.5 701.0,303.0 701.5,303.7 702.0,305.4 702.5,307.1 703.0,306.6 703.5,306.1 704.0,306.0 704.5,306.6 705.0,307.2 705.5,306.0 706.0,304.4 706.5,303.2 707.0,303.7 707.5,304.3 708.0,305.0 708.5,305.7 709.0,306.5 709.5,305.5 710.0,304.5 710.5,304.4 711.0,305.8 711.5,307.2 712.0,307.6 712.5,307.8 713.0,307.5 713.5,305.5 714.0,303.5 714.5,302.4 715.0,301.9 715.5,301.3 716.0,302.3 716.5,303.3 717.0,304.4 717.5,305.5 718.0,306.6 718.5,306.3 719.0,305.5 719.5,304.8 720.0,304.4 720.5,304.0 721.0,304.1 721.5,304.6 722.0,305.2 722.5,304.6 723.0,303.9 723.5,303.7 724.0,304.2 724.5,304.6 725.0,305.3 725.5,306.1 726.0,306.8 726.5,307.3 727.0,307.8 727.5,307.8 728.0,307.5 728.5,307.1 729.0,307.2 729.5,307.2 730.0,307.2 730.5,307.3 731.0,307.3 731.5,307.9 732.0,308.6 732.5,309.1 733.0,308.9 733.5,308.8 734.0,308.4 734.5,307.9 735.0,307.3 735.5,309.2 736.0,311.0 736.5,312.1 737.0,312.0 737.5,311.9 738.0,312.1 738.5,312.4 739.0,312.4 739.5,311.5 740.0,310.6 740.5,311.3 740.6,311.7 741.0,313.0 741.5,314.7 742.0,314.9 742.5,315.1 743.0,314.6 743.5,313.0 744.0,311.4 744.5,311.2 745.0,311.4 745.5,311.7 746.0,312.8 746.5,313.8 747.0,314.3 747.5,314.7 748.0,315.0 748.3,315.4 748.5,314.1 749.0,311.1 749.5,307.4 750.0,302.8 750.5,298.1 751.0,294.9 751.5,291.9 751.7,290.8 752.0,289.4 752.5,286.6 753.0,283.8 753.5,280.5 754.0,277.0 754.5,273.5 755.0,271.3 755.5,269.1 755.7,268.2 756.0,269.5 756.5,271.7 757.0,273.9 757.5,275.6 758.0,277.2 758.5,278.5 759.0,279.2 759.5,279.9 760.0,281.0 760.5,282.4 760.6,282.7 761.0,283.4 761.5,283.0 762.0,282.6 762.5,282.7 763.0,283.7 763.5,284.8 764.0,286.7 764.5,288.9 765.0,290.7 765.5,291.0 766.0,291.3 766.5,291.5 767.0,291.7 767.5,291.5 768.0,292.7 768.5,293.9 769.0,295.0 769.5,296.0 770.0,297.1 770.5,297.7 771.0,298.3 771.5,298.7 772.0,298.5 772.5,298.4 773.0,298.6 773.5,299.0 774.0,299.5 774.5,299.9 775.0,300.3 775.5,300.9 776.0,301.9 776.5,295.6 777.0,288.4 777.5,281.0 778.0,273.6 778.3,269.2 778.5,265.3 779.0,255.6 779.5,246.1 780.0,236.9 780.5,227.7 780.6,225.6 781.0,228.6 781.5,232.3 782.0,236.4 782.5,241.0 782.8,243.7 783.0,246.5 783.5,254.8 784.0,263.4 784.5,272.0 785.0,280.2 785.5,288.4 786.0,295.6 786.5,296.0 787.0,296.4 787.5,296.8 788.0,297.2 788.5,297.6 789.0,297.9 789.4,298.2 789.5,298.4 790.0,300.4 790.5,302.6 791.0,304.9 791.5,307.8 792.0,310.7 792.5,312.7 792.8,313.6 793.0,312.9 793.5,311.3 794.0,309.4 794.5,307.4 795.0,305.9 795.5,305.1 796.0,304.2 796.5,300.7 797.0,296.8 797.5,293.2 798.0,290.9 798.5,288.7 799.0,286.8 799.5,285.3 800.0,283.8 800.5,280.6 800.6,280.0 801.0,280.8 801.5,282.0 802.0,283.2 802.5,284.5 803.0,285.6 803.5,286.7 803.9,287.6 804.0,287.4 804.5,286.5 805.0,285.5 805.5,284.9 806.0,284.5 806.5,284.2 807.0,280.8 807.5,277.4 808.0,275.3 808.5,275.2 809.0,275.0 809.4,274.4 809.5,274.1 810.0,272.8 810.5,271.4 811.0,269.9 811.5,268.5 812.0,266.6 812.5,264.6 813.0,262.6 813.5,261.0 814.0,259.3 814.5,257.4 815.0,255.0 815.5,252.6 816.0,250.7 816.5,248.9 817.0,247.0 817.5,244.9 818.0,242.9 818.3,241.5 818.5,240.6 819.0,238.3 819.5,236.0 820.0,236.3 820.5,236.6 821.0,236.2 821.5,234.5 822.0,232.9 822.5,230.8 823.0,228.5 823.5,226.5 824.0,225.7 824.5,224.8 825.0,223.7 825.5,223.5 826.0,223.4 826.5,222.9 827.0,222.4 827.5,221.9 828.0,221.6 828.5,221.3 829.0,221.4 829.5,221.6 830.0,221.8 830.5,221.8 831.0,221.9 831.5,221.8 832.0,221.7 832.5,221.5 833.0,220.9 833.5,220.3 833.9,219.7 834.0,219.0 834.5,215.0 835.0,211.0 835.5,208.1 836.0,205.4 836.5,202.7 837.0,199.7 837.2,198.6 837.5,200.5 838.0,204.4 838.5,208.7 839.0,213.1 839.5,217.3 840.0,221.6 840.5,225.5 840.6,226.2 841.0,228.3 841.5,231.0 842.0,233.7 842.5,236.3 843.0,238.9 843.5,241.6 844.0,244.2 844.5,246.1 845.0,247.4 845.5,247.0 846.0,248.8 846.5,250.6 847.0,252.0 847.5,252.7 848.0,253.3 848.5,253.0 849.0,252.4 849.5,252.0 850.0,252.3 850.5,252.6 850.6,252.7 851.0,251.9 851.5,251.0 852.0,250.0 852.5,250.9 853.0,251.8 853.5,251.8 854.0,250.2 854.5,248.7 855.0,247.4 855.5,246.1 856.0,245.1 856.5,245.4 857.0,245.7 857.5,245.1 858.0,243.9 858.3,243.2 858.5,242.9 859.0,241.7 859.5,240.6 860.0,239.7 860.5,239.3 861.0,238.8 861.5,239.1 862.0,239.5 862.5,239.6 862.8,239.0 863.0,238.0 863.5,235.5 864.0,233.4 864.5,231.6 865.0,229.9 865.5,229.0 866.0,228.2 866.5,224.0 867.0,219.0 867.5,214.0 868.0,208.9 868.5,203.9 869.0,199.0 869.5,194.0 870.0,188.9 870.5,183.2 871.0,177.0 871.5,170.7 872.0,166.0 872.5,161.4 872.8,158.6 873.0,153.2 873.5,139.8 874.0,126.4 874.5,112.4 875.0,98.3 875.5,88.3 876.0,78.5 876.5,68.6 877.0,60.0 877.2,56.9 877.5,58.5 878.0,61.1 878.5,61.5 879.0,61.9 879.5,62.2 880.0,70.8 880.5,79.5 881.0,89.4 881.5,99.7 882.0,118.2 882.5,136.7 883.0,155.3 883.5,172.4 884.0,188.6 884.3,198.3 884.5,201.4 885.0,210.3 885.5,219.2 886.0,228.4 886.5,237.9 887.0,247.5 887.4,255.8 887.5,256.6 888.0,260.7 888.5,264.2 889.0,266.0 889.5,267.7 890.0,270.6 890.5,274.3 891.0,278.0 891.5,280.8 891.9,283.1 892.0,283.4 892.5,285.0 893.0,286.2 893.5,287.5 894.0,288.3 894.5,289.1 895.0,290.2 895.5,293.3 896.0,296.4 896.5,298.5 897.0,300.0 897.5,301.5 897.8,302.0 898.0,301.9 898.5,301.4 899.0,301.0 899.5,300.4 900.0,299.8 900.5,300.5 901.0,301.5 901.5,302.3 902.0,302.2 902.5,302.0 903.0,302.3 903.5,302.9 903.7,303.1 904.0,303.7 904.5,303.9 905.0,304.1 905.5,304.7 906.0,305.9 906.5,307.2 907.0,307.0 907.5,306.5 908.0,306.3 908.5,307.3 909.0,308.2 909.5,309.9 910.0,312.2 910.5,314.5 911.0,315.4 911.5,316.2 912.0,316.5 912.5,315.9 912.6,315.8 913.0,314.7 913.5,315.0 914.0,315.8 914.5,316.2 915.0,315.0 915.5,313.8 916.0,313.9 916.5,315.0 917.0,316.0 917.5,315.7 918.0,315.4 918.5,314.8 919.0,313.8 919.5,312.9 920.0,312.1 920.5,311.3 921.0,310.5 921.5,309.7 922.0,308.3 922.5,308.5 923.0,309.7 923.5,310.9 924.0,308.8 924.5,306.7 925.0,305.7 925.5,306.5 926.0,307.3 926.5,307.5 927.0,307.6 927.5,307.3 928.0,306.0 928.5,304.6 929.0,303.0 929.5,301.3 930.0,299.5 930.5,300.2 931.0,300.9 931.5,301.3 932.0,301.2 932.5,301.2 933.0,300.3 933.3,299.6 933.5,299.6 934.0,299.4 934.5,299.1 935.0,298.8 935.5,298.6 936.0,298.5 936.5,298.4 937.0,298.5 937.5,298.6 938.0,298.6 938.5,298.6 939.0,298.5 939.5,299.5 940.0,300.8 940.5,301.9 941.0,301.8 941.5,301.8 942.0,301.6 942.5,301.3 943.0,301.0 943.5,300.9 944.0,300.9 944.5,301.4 945.0,303.0 945.5,304.5 946.0,304.6 946.5,304.3 947.0,304.2 947.5,304.9 948.0,305.5 948.1,305.6 948.5,305.3 949.0,304.6 949.5,304.0 950.0,304.8 950.5,305.7 951.0,306.2 951.5,306.3 952.0,306.3 952.5,304.5 953.0,302.2 953.5,300.3 954.0,300.0 954.5,299.6 955.0,299.4 955.5,299.3 956.0,299.3 956.5,300.6 957.0,301.8 957.5,302.4 958.0,302.0 958.5,301.6 959.0,300.5 959.5,299.1 960.0,297.8 960.5,297.0 961.0,296.1 961.5,296.1 962.0,296.7 962.5,297.3 963.0,297.6 963.5,297.9 964.0,298.1 964.5,298.1 965.0,298.2 965.5,296.9 966.0,295.3 966.5,294.2 967.0,294.8 967.5,295.4 968.0,295.3 968.5,294.8 968.9,294.3 969.0,294.4 969.5,294.4 970.0,294.5 970.5,295.1 971.0,296.7 971.5,298.3 972.0,297.8 972.5,296.9 973.0,296.5 973.5,297.8 974.0,299.1 974.5,299.2 975.0,298.4 975.5,297.7 976.0,298.1 976.5,298.6 977.0,299.7 977.5,301.9 978.0,304.2 978.5,304.1 979.0,303.5 979.5,303.3 980.0,304.8 980.5,306.3 981.0,307.2 981.5,307.6 982.0,308.0 982.5,309.1 983.0,310.2 983.5,310.7 983.7,310.5 984.0,309.7 984.5,308.5 985.0,307.7 985.5,307.1 986.0,306.5 986.5,306.1 987.0,305.6 987.5,306.0 988.0,306.9 988.5,307.9 989.0,307.3 989.5,306.7 990.0,306.5 990.5,307.0 991.0,307.4 991.5,307.3 992.0,307.0 992.5,306.4 993.0,304.3 993.5,302.3 994.0,301.6 994.5,301.9 995.0,302.1 995.5,300.9 996.0,299.7 996.5,298.7 997.0,298.0 997.5,297.3 998.0,296.9 998.5,296.6 999.0,297.3 999.5,299.4 1000.0,301.5 1000.5,302.7 1001.0,303.3 1001.5,303.9 1002.0,304.4 1002.5,304.8 1003.0,304.8 1003.5,304.0 1004.0,303.2 1004.5,303.6 1005.0,304.3 1005.5,305.0 1006.0,305.7 1006.5,306.5 1007.0,306.5 1007.5,306.0 1008.0,305.5 1008.5,306.1 1009.0,306.6 1009.5,306.7 1010.0,306.3 1010.5,305.9 1011.0,305.6 1011.5,305.4 1012.0,305.4 1012.5,306.0 1013.0,306.6 1013.3,307.2 1013.5,307.9 1014.0,309.7 1014.5,311.5 1015.0,311.5 1015.5,311.4 1016.0,311.8 1016.5,312.8 1017.0,313.9 1017.5,313.6 1018.0,313.0 1018.5,312.5 1019.0,312.1 1019.5,311.8 1020.0,312.5 1020.5,313.8 1021.0,315.1 1021.5,315.7 1022.0,316.4 1022.5,316.2 1023.0,314.7 1023.5,313.2 1024.0,314.0 1024.5,315.4 1025.0,316.3 1025.5,315.6 1026.0,314.8 1026.5,314.6 1027.0,314.6 1027.5,314.7 1028.0,316.8 1028.1,317.2 1028.5,318.5 1029.0,318.8 1029.5,317.2 1030.0,315.6 1030.5,315.2 1031.0,315.2 1031.5,315.5 1032.0,317.2 1032.5,318.8 1033.0,318.9 1033.5,317.9 1034.0,316.9 1034.5,315.9 1035.0,314.9 1035.5,314.2 1036.0,314.0 1036.5,313.8 1037.0,313.8 1037.5,313.8 1038.0,314.1 1038.5,315.1 1039.0,316.2 1039.5,315.9 1040.0,314.6 1040.5,313.3 1041.0,314.8 1041.5,316.3 1042.0,316.8 1042.5,315.9 1043.0,314.9 1043.5,315.8 1044.0,317.0 1044.5,318.1 1045.0,318.3 1045.5,318.6 1046.0,317.9 1046.5,316.6 1047.0,315.4 1047.5,315.0 1048.0,314.7 1048.5,314.7 1049.0,315.2 1049.5,315.7 1050.0,315.3 1050.5,314.6 1051.0,314.3 1051.5,315.5 1052.0,316.7 1052.5,316.5 1053.0,315.5 1053.5,314.4 1054.0,314.2 1054.5,313.9 1055.0,314.7 1055.5,316.9 1056.0,319.2 1056.5,318.9 1057.0,317.9 1057.5,317.3 1057.8,317.6 1058.0,317.9 1058.5,318.5 1059.0,318.7 1059.5,318.7 1060.0,318.7 1060.5,318.5 1061.0,318.4 1061.5,318.1 1062.0,317.6 1062.5,317.1 1063.0,318.6 1063.5,320.6 1064.0,322.4 1064.5,323.2 1065.0,323.9 1065.5,324.5 1066.0,324.8 1066.5,325.2 1067.0,323.4 1067.5,321.7 1068.0,320.6 1068.5,320.6 1069.0,320.5 1069.5,321.4 1070.0,322.4 1070.5,323.5 1071.0,324.8 1071.5,326.1 1072.0,326.2 1072.5,325.7 1072.6,325.6 1073.0,324.8 1073.5,324.8 1074.0,324.7 1074.5,324.6 1075.0,324.4 1075.5,324.1 1076.0,323.2 1076.5,322.1 1077.0,321.2 1077.5,321.4 1078.0,321.6 1078.5,321.3 1079.0,320.7 1079.5,320.0 1080.0,319.6 1080.5,319.1 1081.0,318.6 1081.5,318.0 1082.0,317.3 1082.5,317.3 1083.0,317.4 1083.5,317.9 1084.0,319.4 1084.5,320.9 1085.0,320.9 1085.5,319.9 1086.0,318.9 1086.5,318.9 1087.0,319.0 1087.4,319.0 1087.5,319.0 1088.0,319.2 1088.5,319.3 1089.0,320.0 1089.5,320.8 1090.0,321.2 1090.5,320.2 1091.0,319.2 1091.5,318.6 1092.0,318.3 1092.5,317.9 1093.0,317.9 1093.5,318.0 1094.0,318.0 1094.5,318.1 1095.0,318.1 1095.5,319.2 1096.0,320.5 1096.5,321.7 1097.0,322.2 1097.5,322.7 1098.0,322.2 1098.5,321.0 1099.0,319.9 1099.5,319.7 1100.0,319.6 1100.5,319.7 1101.0,320.2 1101.5,320.8 1102.0,321.1 1102.2,321.2 1102.5,321.2 1103.0,321.2 1103.5,321.1 1104.0,321.0 1104.5,320.3 1105.0,319.3 1105.5,318.4 1106.0,317.4 1106.5,316.5 1107.0,316.0 1107.5,316.2 1108.0,316.3 1108.5,315.9 1109.0,315.4 1109.5,315.2 1110.0,316.0 1110.5,316.9 1111.0,316.6 1111.5,315.5 1112.0,314.5 1112.5,314.1 1113.0,313.7 1113.5,313.9 1114.0,314.9 1114.5,316.0" fill="none" stroke="#f01010" stroke-width="2.2" stroke-linejoin="round"/>
<polyline points="689.5,519.8 690.0,520.0 690.5,519.5 691.0,517.5 691.5,515.7 692.0,514.1 692.5,512.3 693.0,511.6 693.5,515.2 694.0,516.5 694.5,515.6 695.0,516.7 695.5,517.8 696.0,515.6 696.5,515.0 697.0,517.0 697.5,515.6 698.0,512.8 698.5,515.5 699.0,517.3 699.5,517.1 700.0,515.8 700.5,513.8 701.0,514.0 701.5,514.5 702.0,515.3 702.5,514.2 703.0,511.3 703.5,512.1 704.0,513.8 704.5,515.3 705.0,515.0 705.5,511.9 706.0,512.9 706.5,515.6 707.0,515.1 707.5,514.9 708.0,515.7 708.5,514.2 709.0,511.2 709.5,509.3 710.0,508.6 710.5,512.4 711.0,514.5 711.5,514.8 712.0,513.1 712.5,510.9 713.0,508.5 713.5,507.2 714.0,507.5 714.5,509.3 715.0,511.7 715.5,509.9 716.0,509.6 716.5,513.2 717.0,513.5 717.5,511.6 718.0,509.1 718.5,508.0 719.0,510.7 719.5,511.5 720.0,510.3 720.5,512.9 721.0,516.1 721.5,516.6 722.0,516.1 722.5,514.1 723.0,514.1 723.5,515.0 724.0,515.7 724.5,516.4 725.0,517.4 725.5,518.6 726.0,520.0 726.5,515.6 727.0,511.8 727.5,513.6 728.0,515.3 728.5,517.2 729.0,516.6 729.5,515.6 730.0,517.4 730.5,517.5 731.0,515.1 731.5,517.6 732.0,522.3 732.5,521.0 733.0,519.4 733.5,517.1 734.0,518.2 734.5,521.4 735.0,520.5 735.5,519.2 736.0,518.7 736.5,519.4 737.0,521.3 737.5,520.4 738.0,519.1 738.5,519.7 739.0,521.7 739.5,525.8 740.0,526.9 740.5,526.2 741.0,522.0 741.5,520.3 742.0,524.2 742.5,523.3 743.0,519.2 743.5,519.9 744.0,521.7 744.5,525.0 745.0,526.0 745.5,524.5 746.0,522.6 746.5,520.7 747.0,520.8 747.5,520.9 748.0,520.9 748.5,519.7 749.0,518.1 749.5,522.9 750.0,524.7 750.5,519.6 751.0,518.5 751.5,520.0 752.0,521.9 752.5,523.0 753.0,521.1 753.5,521.7 754.0,524.8 754.5,522.1 755.0,518.8 755.5,522.6 756.0,524.8 756.5,524.5 757.0,523.5 757.5,522.0 758.0,523.1 758.5,523.0 759.0,520.4 759.5,520.5 760.0,522.4 760.5,522.5 761.0,522.0 761.5,520.3 762.0,519.1 762.5,518.6 763.0,519.5 763.5,520.4 764.0,518.7 764.5,516.8 765.0,514.6 765.5,516.4 766.0,520.0 766.5,517.4 767.0,515.9 767.5,516.8 768.0,518.2 768.5,519.9 769.0,517.0 769.5,513.9 770.0,512.6 770.5,512.3 771.0,512.9 771.5,515.4 772.0,517.9 772.5,517.0 773.0,516.2 773.5,515.6 774.0,516.3 774.5,517.5 775.0,520.5 775.5,521.5 776.0,518.0 776.5,517.0 777.0,517.7 777.5,520.4 778.0,522.5 778.5,521.4 779.0,519.8 779.5,517.8 780.0,518.3 780.5,519.3 781.0,519.6 781.5,519.0 782.0,517.2 782.5,517.6 783.0,518.9 783.5,518.7 784.0,519.5 784.5,522.5 785.0,522.3 785.5,519.9 786.0,521.3 786.5,523.2 787.0,525.3 787.5,526.4 788.0,526.4 788.5,524.0 789.0,521.4 789.5,522.5 790.0,522.6 790.5,521.2 791.0,521.1 791.5,521.5 792.0,522.2 792.5,523.3 793.0,525.2 793.5,526.7 794.0,527.8 794.5,524.8 795.0,521.6 795.5,519.7 796.0,520.0 796.5,522.5 797.0,521.0 797.5,518.8 798.0,518.0 798.5,519.2 799.0,523.1 799.5,521.7 800.0,517.9 800.5,520.7 801.0,522.1 801.5,520.0 802.0,520.8 802.5,523.6 803.0,523.4 803.5,522.0 804.0,517.0 804.5,514.5 805.0,514.5 805.5,517.7 806.0,521.2 806.5,519.3 807.0,517.6 807.5,515.9 808.0,516.6 808.5,518.2 809.0,518.2 809.5,517.6 810.0,515.4 810.5,514.1 811.0,513.4 811.5,511.1 812.0,509.2 812.5,510.2 813.0,509.9 813.5,508.4 814.0,510.0 814.5,512.1 815.0,511.9 815.5,510.6 816.0,507.5 816.5,508.1 817.0,510.3 817.5,507.2 818.0,504.7 818.5,504.1 819.0,505.6 819.5,508.3 820.0,507.6 820.5,507.2 821.0,509.3 821.5,509.5 821.8,508.5 822.0,508.0 822.5,508.2 823.0,508.4 823.5,505.4 824.0,505.1 824.5,509.1 825.0,507.7 825.5,504.0 826.0,507.0 826.5,509.7 827.0,511.9 827.5,513.1 828.0,513.5 828.5,513.7 829.0,513.4 829.5,511.1 830.0,510.6 830.5,512.0 831.0,513.0 831.5,513.5 832.0,510.0 832.5,509.7 833.0,514.3 833.5,516.0 834.0,516.5 834.5,514.0 835.0,512.9 835.5,514.8 836.0,514.7 836.5,513.2 837.0,512.2 837.5,512.0 838.0,514.7 838.5,514.4 839.0,511.1 839.5,513.8 840.0,517.7 840.5,519.5 841.0,519.1 841.5,515.6 842.0,517.1 842.5,520.9 843.0,516.6 843.5,514.9 844.0,519.2 844.5,519.4 845.0,516.8 845.5,520.2 846.0,522.9 846.5,520.5 847.0,520.7 847.5,523.7 848.0,520.6 848.5,516.5 849.0,516.6 849.5,518.5 850.0,523.1 850.5,524.3 851.0,524.0 851.5,523.7 852.0,522.7 852.5,520.0 853.0,519.5 853.5,520.3 854.0,521.8 854.5,522.7 855.0,521.3 855.5,523.4 856.0,529.1 856.4,529.9 856.5,529.7 857.0,528.6 857.5,529.1 858.0,528.7 858.5,526.9 859.0,524.5 859.5,521.8 860.0,519.6 860.5,519.0 861.0,522.2 861.5,521.2 862.0,517.5 862.5,518.7 863.0,520.0 863.5,519.2 864.0,518.7 864.5,518.4 865.0,516.0 865.5,513.4 866.0,512.7 866.5,513.1 867.0,515.2 867.5,513.7 868.0,510.6 868.5,512.8 869.0,513.6 869.5,511.2 870.0,510.3 870.5,510.4 871.0,509.4 871.5,508.8 872.0,510.7 872.5,511.1 873.0,509.8 873.5,508.3 874.0,506.9 874.5,506.3 875.0,506.6 875.5,508.1 876.0,509.8 876.5,511.6 877.0,508.5 877.5,506.6 878.0,505.3 878.5,505.5 879.0,506.6 879.5,506.9 880.0,507.4 880.5,509.8 881.0,511.9 881.5,513.8 882.0,513.7 882.5,512.9 883.0,511.0 883.5,510.3 884.0,511.4 884.5,512.3 885.0,513.1 885.5,514.0 886.0,514.7 886.5,514.9 887.0,517.4 887.5,521.3 888.0,520.1 888.5,518.9 889.0,519.7 889.5,520.6 890.0,521.4 890.5,521.7 891.0,521.9 891.5,523.2 892.0,523.3 892.5,521.3 893.0,522.1 893.5,524.0 894.0,526.4 894.5,526.9 895.0,522.8 895.5,522.8 896.0,525.5 896.5,525.2 897.0,524.3 897.5,522.8 898.0,522.1 898.5,522.2 899.0,525.9 899.4,529.6 899.5,529.6 900.0,525.9 900.5,524.7 901.0,527.4 901.5,525.6 902.0,521.9 902.5,522.7 903.0,522.5 903.5,520.3 904.0,520.7 904.5,523.1 905.0,524.4 905.5,524.7 906.0,521.2 906.5,520.0 907.0,521.2 907.5,522.9 908.0,524.2 908.5,520.3 909.0,518.0 909.5,518.3 910.0,519.1 910.5,520.2 911.0,520.7 911.5,519.8 912.0,515.4 912.5,514.8 913.0,516.9 913.5,514.0 914.0,511.2 914.5,510.4 915.0,512.3 915.5,517.4 916.0,514.6 916.5,510.6 917.0,515.3 917.5,517.9 918.0,517.4 918.5,517.0 919.0,516.6 919.5,516.9 920.0,517.0 920.5,516.7 921.0,515.2 921.5,513.2 922.0,513.6 922.5,514.0 923.0,512.7 923.5,514.0 924.0,517.7 924.5,518.4 925.0,518.4 925.5,518.5 926.0,517.3 926.5,514.0 927.0,514.4 927.5,516.3 928.0,514.6 928.5,514.3 929.0,517.3 929.5,518.6 930.0,518.7 930.5,520.1 931.0,521.0 931.5,519.6 932.0,518.7 932.5,518.5 933.0,518.9 933.5,519.0 934.0,515.2 934.5,513.9 935.0,516.5 935.5,515.2 936.0,512.2 936.5,514.0 937.0,514.8 937.4,513.8 937.5,513.5 938.0,515.7 938.5,520.2 939.0,516.1 939.5,513.0 940.0,517.5 940.5,520.0 941.0,520.5 941.5,518.1 942.0,515.5 942.5,517.4 943.0,516.7 943.5,512.2 944.0,510.7 944.5,510.7 945.0,509.7 945.5,509.1 946.0,509.2 946.5,509.0 947.0,508.4 947.5,512.5 948.0,515.4 948.5,511.4 949.0,510.6 949.5,513.0 950.0,512.0 950.5,510.3 951.0,509.2 951.5,509.1 952.0,510.5 952.4,510.2 952.5,510.1 953.0,509.5 953.5,514.7 954.0,517.6 954.5,515.3 955.0,515.3 955.5,516.9 956.0,517.6 956.5,518.3 957.0,519.3 957.5,519.7 958.0,519.6 958.5,519.0 959.0,518.4 959.5,518.2 960.0,520.0 960.5,525.0 961.0,524.4 961.5,521.4 962.0,523.2 962.5,525.3 963.0,528.2 963.5,529.1 964.0,528.6 964.5,531.0 965.0,533.2 965.5,533.3 966.0,532.8 966.5,531.6 967.0,530.0 967.4,528.5 967.5,528.4 968.0,530.5 968.5,531.4 969.0,530.5 969.5,531.5 970.0,533.2 970.5,531.1 971.0,529.7 971.5,530.0 972.0,530.3 972.5,530.7 973.0,528.6 973.5,527.0 974.0,528.5 974.5,529.3 975.0,529.4 975.5,525.6 976.0,521.7 976.5,525.3 977.0,527.3 977.5,527.0 978.0,526.5 978.5,526.0 979.0,522.5 979.5,519.7 980.0,518.5 980.5,517.3 981.0,516.0 981.5,516.7 982.0,517.9 982.5,520.4 983.0,520.1 983.5,517.1 984.0,514.3 984.2,513.2 984.5,512.1 985.0,513.6 985.5,513.9 986.0,512.7 986.5,514.4 987.0,517.4 987.5,518.5 988.0,519.5 988.5,520.5 989.0,518.0 989.5,513.2 990.0,513.7 990.5,514.3 991.0,512.9 991.5,514.4 992.0,518.8 992.5,519.6 993.0,519.3 993.5,517.4 994.0,517.2 994.5,519.5 995.0,518.5 995.5,516.1 996.0,517.3 996.5,517.7 997.0,516.1 997.5,514.9 998.0,513.9 998.5,517.0 999.0,519.7 999.2,519.4 999.5,519.5 1000.0,519.2 1000.5,518.3 1001.0,519.9 1001.5,521.7 1002.0,521.3 1002.5,521.6 1003.0,523.0 1003.5,521.0 1004.0,517.5 1004.5,518.1 1005.0,518.7 1005.5,519.2 1006.0,521.6 1006.5,525.1 1007.0,526.9 1007.5,527.7 1008.0,525.2 1008.5,525.1 1009.0,527.5 1009.5,526.8 1010.0,525.9 1010.4,529.0 1010.5,529.4 1011.0,530.9 1011.5,531.1 1012.0,527.8 1012.5,523.2 1013.0,527.2 1013.5,529.5 1014.0,527.4 1014.5,524.2 1015.0,520.1 1015.5,520.0 1016.0,519.8 1016.5,518.1 1017.0,518.5 1017.5,521.0 1018.0,522.0 1018.5,522.2 1019.0,517.2 1019.5,513.9 1020.0,512.8 1020.5,513.7 1021.0,515.6 1021.5,516.4 1022.0,516.7 1022.5,515.4 1023.0,513.4 1023.5,511.0 1024.0,509.3 1024.5,508.4 1025.0,511.5 1025.5,513.0 1026.0,512.7 1026.5,514.5 1027.0,516.6 1027.5,515.8 1028.0,515.8 1028.5,517.0 1029.0,518.7 1029.5,520.5 1030.0,519.1 1030.5,518.6 1031.0,520.5 1031.5,519.3 1032.0,516.1 1032.5,514.4 1033.0,514.2 1033.5,519.5 1034.0,520.2 1034.5,516.1 1035.0,519.7 1035.5,524.5 1036.0,522.2 1036.5,520.0 1037.0,517.9 1037.5,518.2 1038.0,519.6 1038.5,522.6 1039.0,524.4 1039.5,523.1 1040.0,523.5 1040.3,524.5 1040.5,524.9 1041.0,522.1 1041.5,520.2 1042.0,523.9 1042.5,524.5 1043.0,521.9 1043.5,523.1 1044.0,524.6 1044.5,520.6 1045.0,519.1 1045.5,521.4 1046.0,521.3 1046.5,520.1 1047.0,519.3 1047.5,518.0 1048.0,515.4 1048.5,515.9 1049.0,518.3 1049.5,520.2 1050.0,520.7 1050.5,516.3 1051.0,514.8 1051.5,516.1 1052.0,514.2 1052.5,512.3 1053.0,517.5 1053.5,520.6 1054.0,520.7 1054.5,519.4 1055.0,517.5 1055.3,516.5 1055.5,515.9 1056.0,514.1 1056.5,511.4 1057.0,510.3 1057.5,510.2 1058.0,513.1 1058.5,515.8 1059.0,516.5 1059.5,517.4 1060.0,518.5 1060.5,518.1 1061.0,517.1 1061.5,514.5 1062.0,512.3 1062.5,510.8 1063.0,511.3 1063.5,512.7 1064.0,511.6 1064.5,511.1 1065.0,512.0 1065.5,513.5 1066.0,515.4 1066.5,513.4 1067.0,512.0 1067.5,514.7 1068.0,515.4 1068.5,514.0 1069.0,510.3 1069.5,506.9 1070.0,510.4 1070.5,512.4 1071.0,512.2 1071.5,511.8 1072.0,511.4 1072.1,510.7 1072.5,508.1 1073.0,507.4 1073.5,512.5 1074.0,513.7 1074.5,512.4 1075.0,512.7 1075.5,512.7 1076.0,511.0 1076.5,509.8 1077.0,509.2 1077.5,509.2 1078.0,509.5 1078.5,511.0 1079.0,512.4 1079.5,513.4 1080.0,513.5 1080.5,513.1 1081.0,512.8 1081.5,513.9 1082.0,518.2 1082.5,520.2 1083.0,520.9 1083.5,522.3 1084.0,522.8 1084.5,519.4 1085.0,519.2 1085.5,522.2 1086.0,522.7 1086.5,522.4 1087.0,519.8 1087.1,519.3 1087.5,519.5 1088.0,523.5 1088.5,522.6 1089.0,519.7 1089.5,518.2 1090.0,516.9 1090.5,516.5 1091.0,518.7 1091.5,522.7 1092.0,519.5 1092.5,516.4 1093.0,516.6 1093.5,517.1 1094.0,517.8 1094.5,516.9 1095.0,515.9 1095.5,517.2 1096.0,516.6 1096.5,513.1 1097.0,513.0 1097.5,514.4 1098.0,515.2 1098.3,515.6 1098.5,516.1 1099.0,517.2 1099.5,518.1 1100.0,518.9 1100.5,517.9 1101.0,517.5 1101.5,520.3 1102.0,523.1 1102.5,526.1 1103.0,525.2 1103.5,523.7 1104.0,525.1 1104.5,526.8 1105.0,528.8 1105.5,527.7 1106.0,525.2 1106.5,525.7 1107.0,527.6 1107.5,532.5 1107.7,534.4 1108.0,531.8 1108.5,527.4 1109.0,526.5 1109.5,525.9 1110.0,524.7 1110.5,525.4 1111.0,528.1 1111.5,526.2 1112.0,523.4 1112.5,524.4 1113.0,522.9 1113.5,518.0 1114.0,516.0 1114.5,515.4" fill="none" stroke="#000" stroke-width="2.3" stroke-linejoin="round"/>
<path d="M689,570 L689,39 Q689,35 693,35 L1111,35 Q1115,35 1115,39 L1115,570 Z" fill="none" stroke="#3a3a3a" stroke-width="2.2"/>
<line x1="689" y1="425" x2="1115" y2="425" stroke="#2a2a2a" stroke-width="2.4"/>
<line x1="684" y1="570.5" x2="1116" y2="570.5" stroke="#1a1a1a" stroke-width="2.4"/>
<path d="M689.0,571 v4 M727.7,571 v7 M727.7,426 v6 M766.5,571 v4 M766.5,426 v4 M805.2,571 v7 M805.2,426 v6 M843.9,571 v4 M843.9,426 v4 M882.6,571 v7 M882.6,426 v6 M921.4,571 v4 M921.4,426 v4 M960.1,571 v7 M960.1,426 v6 M998.8,571 v4 M998.8,426 v4 M1037.5,571 v7 M1037.5,426 v6 M1076.3,571 v4 M1076.3,426 v4 M1115.0,571 v7" stroke="#1a1a1a" stroke-width="2" fill="none"/>
<text x="712.0" y="598.6" font-size="20" fill="#000" textLength="29.5" lengthAdjust="spacingAndGlyphs" >800</text>
<text x="784.5" y="598.6" font-size="20" fill="#000" textLength="39.4" lengthAdjust="spacingAndGlyphs" >1200</text>
<text x="863.0" y="598.6" font-size="20" fill="#000" textLength="39.3" lengthAdjust="spacingAndGlyphs" >1600</text>
<text x="940.5" y="598.6" font-size="20" fill="#000" textLength="39.5" lengthAdjust="spacingAndGlyphs" >2000</text>
<text x="1018.7" y="598.6" font-size="20" fill="#000" textLength="39.8" lengthAdjust="spacingAndGlyphs" >2400</text>
<text x="1096.0" y="598.6" font-size="20" fill="#000" textLength="37.5" lengthAdjust="spacingAndGlyphs" >2800</text>
<text x="802.0" y="633.5" font-size="24.2" fill="#000" textLength="192.0" lengthAdjust="spacingAndGlyphs" >Wavenumber/cm</text>
<text x="994.0" y="623.0" font-size="14" fill="#000" textLength="10.0" lengthAdjust="spacingAndGlyphs" >-1</text>
<text transform="translate(678,447) rotate(-90)" x="0" y="0" font-size="24.3" textLength="273" lengthAdjust="spacingAndGlyphs">Raman Intensity (a.u)</text>
<text x="984.2" y="297.6" font-size="13.3" fill="#d82020" textLength="130.6" lengthAdjust="spacingAndGlyphs" >GQDs-Au NPs-4-MBA</text>
<text x="996.6" y="334.9" font-size="13.3" fill="#d8287e" textLength="115.1" lengthAdjust="spacingAndGlyphs" >GO-Au NPs-4-MBA</text>
<text x="991.5" y="360.8" font-size="13.3" fill="#0a8a3a" textLength="121.2" lengthAdjust="spacingAndGlyphs" >GHs-Au NPs-4-MBA</text>
<text x="989.4" y="383.6" font-size="13.3" fill="#1a20b0" textLength="124.3" lengthAdjust="spacingAndGlyphs" >RGO-Au NPs-4-MBA</text>
<text x="985.2" y="408.5" font-size="13.3" fill="#7a1a78" textLength="128.5" lengthAdjust="spacingAndGlyphs" >CNTs-Au NPs-4-MBA</text>
<line x1="779.9" y1="225.2" x2="758" y2="200" stroke="#1c1f6e" stroke-width="1.3"/>
<path d="M755.4,197.0 L762.5,200.7 L759.1,201.2 L758.0,204.6 Z" fill="#1c1f6e"/>
<line x1="801.3" y1="277" x2="801.3" y2="207" stroke="#3a3f8e" stroke-width="1.3"/>
<path d="M801.3,202.2 L804.3,209.6 L801.3,207.8 L798.3,209.6 Z" fill="#1c1f6e"/>
<line x1="837.4" y1="201" x2="837.4" y2="149" stroke="#3a3f8e" stroke-width="1.3"/>
<path d="M837.4,144.3 L840.4,151.7 L837.4,149.9 L834.4,151.7 Z" fill="#1c1f6e"/>
<line x1="882" y1="70.6" x2="920" y2="70.6" stroke="#1c1f6e" stroke-width="1.5"/>
<path d="M926.0,70.6 L918.6,73.6 L920.4,70.6 L918.6,67.6 Z" fill="#1c1f6e"/>
<line x1="772.4" y1="236" x2="772.4" y2="302" stroke="#111" stroke-width="2" stroke-dasharray="5.5,5"/>
<path d="M769,226.3 h7 M772.4,226.3 v6.8 M769.5,303.5 h7" stroke="#111" stroke-width="2" fill="none"/>
<line x1="890.4" y1="73" x2="890.4" y2="245" stroke="#111" stroke-width="2" stroke-dasharray="5.5,5"/>
<path d="M887,57.3 h7 M890.4,57.3 v8 M890.4,240 v6.5 M888,246.5 h6" stroke="#111" stroke-width="2" fill="none"/>
<text x="693.5" y="190.4" font-size="16" fill="#000" textLength="72.5" lengthAdjust="spacingAndGlyphs" >&#957;(CC)ring</text>
<text x="710.0" y="211.1" font-size="16" fill="#000" textLength="44.5" lengthAdjust="spacingAndGlyphs" >~1070</text>
<text x="781.8" y="171.1" font-size="16.5" fill="#000" textLength="41.5" lengthAdjust="spacingAndGlyphs" >&#948;(CH)</text>
<text x="779.0" y="198.8" font-size="17" fill="#000" textLength="45.0" lengthAdjust="spacingAndGlyphs" >~1175</text>
<text x="804.8" y="117" font-size="17.5">&#957;</text>
<text x="814" y="122" font-size="12">s</text>
<text x="820.5" y="117.0" font-size="17.5" fill="#000" textLength="51.0" lengthAdjust="spacingAndGlyphs" >(COO-)</text>
<text x="816.6" y="137.2" font-size="17.5" fill="#000" textLength="44.5" lengthAdjust="spacingAndGlyphs" >~1357</text>
<text x="926.8" y="76.7" font-size="16.5" fill="#000" textLength="72.0" lengthAdjust="spacingAndGlyphs" >&#957;(CC)ring</text>
<text x="939.0" y="97.1" font-size="16.5" fill="#000" textLength="45.5" lengthAdjust="spacingAndGlyphs" >~1585</text>
<path d="M1062.7,74 V111 M1059.5,74 h6.5 M1059.5,111 h6.5" stroke="#111" stroke-width="2" fill="none"/>
<text x="1069.5" y="101.2" font-size="21.5" fill="#000" textLength="31.5" lengthAdjust="spacingAndGlyphs" >500</text>
<text x="988.8" y="498.4" font-size="17.6" fill="#000" textLength="78.0" lengthAdjust="spacingAndGlyphs" >4 MBA (10</text>
<text x="1067.0" y="492.3" font-size="12" fill="#000" textLength="10.0" lengthAdjust="spacingAndGlyphs" >-6</text>
<text x="1080.3" y="498.4" font-size="17.6" fill="#000" textLength="20.8" lengthAdjust="spacingAndGlyphs" >M)</text>
<text x="120.2" y="111.5" font-size="21.3" fill="#000" textLength="132.0" lengthAdjust="spacingAndGlyphs" >Laser Source</text>
<text x="131.8" y="142.0" font-size="20.3" fill="#000" textLength="102.5" lengthAdjust="spacingAndGlyphs" >(632.8 nm)</text>
<text x="302.3" y="215.1" font-size="22.6" fill="#000" textLength="214.0" lengthAdjust="spacingAndGlyphs" >Raman Enhancement</text>
<line x1="63" y1="113.5" x2="121" y2="113.5" stroke="#e4e4e4" stroke-width="1"/>
<line x1="549" y1="211.8" x2="598" y2="211.3" stroke="#6e0c06" stroke-width="3.4" stroke-linecap="round"/>
<path d="M593.6,195.4 Q606,204 618.5,210.7 Q606,217 593.6,226.3 Q599,218 598,211 Q599,204 593.6,195.4 Z" fill="#a81c08" stroke="#6a0c05" stroke-width="0.8"/>
<g transform="translate(148,203.5) rotate(-36)">
<path d="M-11.5,30 L-11.5,72 A11.5,4.3 0 0 0 11.5,72 L11.5,30 Z" fill="url(#noz)" stroke="#9a8f84" stroke-width="0.6"/>
<ellipse cx="0" cy="72" rx="11.5" ry="4.3" fill="#dcd4cc"/>
<path d="M-24,-46 C-23,-55 -10,-61 4,-60.5 C14,-60.2 23,-58 24,-52 L24,52 A24,9 0 0 1 -24,52 Z" fill="url(#cyl)" stroke="#5d7f94" stroke-width="1.4"/>
<path d="M-12.5,32 L12.5,32 L12.5,47 L-12.5,47 Z" fill="#7b6a5a" opacity="0.92"/>
<ellipse cx="0" cy="32" rx="12.5" ry="4.5" fill="#8a7868"/>
<path d="M-11.5,47 L-11.5,60 A11.5,4.3 0 0 0 11.5,60 L11.5,47 Z" fill="#9c8f82" opacity="0.85"/>
<ellipse cx="0" cy="52" rx="24" ry="9" fill="#c8c0b6" fill-opacity="0.35" stroke="#5d7f94" stroke-width="1.3"/>
</g>
<line x1="204" y1="273" x2="272" y2="377" stroke="#ffa845" stroke-width="20" stroke-linecap="round" opacity="0.8" filter="url(#blur4)"/>
<line x1="205.4" y1="275.4" x2="271.5" y2="375.2" stroke="#ffcc33" stroke-width="7.5" stroke-linecap="round"/>
<line x1="205.4" y1="275.4" x2="271.5" y2="375.2" stroke="#ff1800" stroke-width="5" stroke-linecap="round"/>
<path d="M334.7,238.1 L361.5,242.7 L349.5,269.5 L345.5,268.5 L352.8,295.0 L344.5,291.5 L343.6,311.5 L338.7,334.2 L334.3,308.5 L337.0,310.5 L332.2,285.5 L337.5,288.5 L331.2,261.0 L339.5,264.5 Z" transform="matrix(1.0000,0.0000,0.0000,1.0000,-0.00,-0.00)" fill="url(#bolt)" stroke="#ff8a20" stroke-width="0.5" stroke-opacity="0.6"/>
<path d="M334.7,238.1 L361.5,242.7 L349.5,269.5 L345.5,268.5 L352.8,295.0 L344.5,291.5 L343.6,311.5 L338.7,334.2 L334.3,308.5 L337.0,310.5 L332.2,285.5 L337.5,288.5 L331.2,261.0 L339.5,264.5 Z" transform="matrix(0.7515,0.1710,-0.1176,0.8951,153.17,-19.55)" fill="url(#bolt)" stroke="#ff8a20" stroke-width="0.5" stroke-opacity="0.6"/>
<path d="M334.7,238.1 L361.5,242.7 L349.5,269.5 L345.5,268.5 L352.8,295.0 L344.5,291.5 L343.6,311.5 L338.7,334.2 L334.3,308.5 L337.0,310.5 L332.2,285.5 L337.5,288.5 L331.2,261.0 L339.5,264.5 Z" transform="matrix(0.9814,0.3410,-0.2615,0.9483,159.96,-100.62)" fill="url(#bolt)" stroke="#ff8a20" stroke-width="0.5" stroke-opacity="0.6"/>
<path d="M334.7,238.1 L361.5,242.7 L349.5,269.5 L345.5,268.5 L352.8,295.0 L344.5,291.5 L343.6,311.5 L338.7,334.2 L334.3,308.5 L337.0,310.5 L332.2,285.5 L337.5,288.5 L331.2,261.0 L339.5,264.5 Z" transform="matrix(0.6701,0.3636,-0.3390,0.8163,320.23,-50.76)" fill="url(#bolt)" stroke="#ff8a20" stroke-width="0.5" stroke-opacity="0.6"/>
<polygon points="264,397 655,397 583,513 193,513" fill="#c0bcbb"/>
<polygon points="193,513 583,513 583,533 193,533" fill="#a9a4a3"/>
<polygon points="193,533 583,533 583,576 193,576" fill="#2595d6"/>
<polygon points="583,513 655,397 655,417 583,533" fill="#95908f"/>
<polygon points="583,533 655,417 655,461 583,576" fill="#1b7cb8"/>
<line x1="583.5" y1="533" x2="655" y2="417.5" stroke="#8ccff5" stroke-width="1.2"/>
<line x1="193" y1="533.3" x2="583" y2="533.3" stroke="#6ab8e6" stroke-width="0.8"/>
<text x="245.3" y="566.6" font-size="29" fill="#fff" textLength="194.5" lengthAdjust="spacingAndGlyphs" >Silicon Substrate</text>
<g>
<path d="M476.7,415.0 L493.8,403.5 M316.4,457.0 L357.2,459.0 M373.2,497.5 L417.9,499.5 M307.2,418.5 L322.7,432.0 M417.9,499.5 L440.2,488.0 M481.7,465.0 L501.0,453.5 M504.6,478.5 L548.1,480.6 M292.4,468.5 L310.1,482.0 M542.3,455.6 L566.5,469.1 M329.0,407.0 L365.4,409.0 M439.9,463.0 L481.7,465.0 M476.7,415.0 L497.4,428.5 M361.3,434.0 L382.2,422.5 M497.4,428.5 L536.5,430.6 M536.5,430.6 L559.6,444.1 M481.7,465.0 L504.6,478.5 M260.7,441.4 L299.8,443.5 M419.5,449.5 L439.9,463.0 M353.1,484.0 L373.2,497.5 M285.0,493.5 L303.8,507.0 M548.1,480.6 L573.4,494.1 M241.4,491.4 L285.0,493.5 M508.2,503.5 L553.9,505.6 M421.1,399.5 L439.3,413.0 M361.3,434.0 L379.2,447.5 M270.3,416.4 L307.2,418.5 M440.2,488.0 L484.2,490.0 M493.8,403.5 L530.7,405.6 M310.1,482.0 L353.1,484.0 M385.2,397.5 L421.1,399.5 M479.2,440.0 L501.0,453.5 M299.8,443.5 L316.4,457.0 M299.8,443.5 L322.7,432.0 M420.3,424.5 L439.6,438.0 M536.5,430.6 L552.7,419.1 M420.3,424.5 L439.3,413.0 M530.7,405.6 L552.7,419.1 M251.1,466.4 L292.4,468.5 M357.2,459.0 L376.2,472.5 M379.2,447.5 L419.5,449.5 M357.2,459.0 L379.2,447.5 M501.0,453.5 L542.3,455.6 M322.7,432.0 L361.3,434.0 M484.2,490.0 L508.2,503.5 M484.2,490.0 L504.6,478.5 M285.0,493.5 L310.1,482.0 M418.7,474.5 L440.2,488.0 M548.1,480.6 L566.5,469.1 M418.7,474.5 L439.9,463.0 M365.4,409.0 L382.2,422.5 M365.4,409.0 L385.2,397.5 M376.2,472.5 L418.7,474.5 M307.2,418.5 L329.0,407.0 M553.9,505.6 L573.4,494.1 M439.3,413.0 L476.7,415.0 M479.2,440.0 L497.4,428.5 M382.2,422.5 L420.3,424.5 M419.5,449.5 L439.6,438.0 M353.1,484.0 L376.2,472.5 M292.4,468.5 L316.4,457.0 M542.3,455.6 L559.6,444.1 M439.6,438.0 L479.2,440.0" stroke="#444" stroke-width="6" fill="none" opacity="0.75"/>
<path d="M476.7,415.0 L493.8,403.5 M316.4,457.0 L357.2,459.0 M373.2,497.5 L417.9,499.5 M307.2,418.5 L322.7,432.0 M417.9,499.5 L440.2,488.0 M481.7,465.0 L501.0,453.5 M504.6,478.5 L548.1,480.6 M292.4,468.5 L310.1,482.0 M542.3,455.6 L566.5,469.1 M329.0,407.0 L365.4,409.0 M439.9,463.0 L481.7,465.0 M476.7,415.0 L497.4,428.5 M361.3,434.0 L382.2,422.5 M497.4,428.5 L536.5,430.6 M536.5,430.6 L559.6,444.1 M481.7,465.0 L504.6,478.5 M260.7,441.4 L299.8,443.5 M419.5,449.5 L439.9,463.0 M353.1,484.0 L373.2,497.5 M285.0,493.5 L303.8,507.0 M548.1,480.6 L573.4,494.1 M241.4,491.4 L285.0,493.5 M508.2,503.5 L553.9,505.6 M421.1,399.5 L439.3,413.0 M361.3,434.0 L379.2,447.5 M270.3,416.4 L307.2,418.5 M440.2,488.0 L484.2,490.0 M493.8,403.5 L530.7,405.6 M310.1,482.0 L353.1,484.0 M385.2,397.5 L421.1,399.5 M479.2,440.0 L501.0,453.5 M299.8,443.5 L316.4,457.0 M299.8,443.5 L322.7,432.0 M420.3,424.5 L439.6,438.0 M536.5,430.6 L552.7,419.1 M420.3,424.5 L439.3,413.0 M530.7,405.6 L552.7,419.1 M251.1,466.4 L292.4,468.5 M357.2,459.0 L376.2,472.5 M379.2,447.5 L419.5,449.5 M357.2,459.0 L379.2,447.5 M501.0,453.5 L542.3,455.6 M322.7,432.0 L361.3,434.0 M484.2,490.0 L508.2,503.5 M484.2,490.0 L504.6,478.5 M285.0,493.5 L310.1,482.0 M418.7,474.5 L440.2,488.0 M548.1,480.6 L566.5,469.1 M418.7,474.5 L439.9,463.0 M365.4,409.0 L382.2,422.5 M365.4,409.0 L385.2,397.5 M376.2,472.5 L418.7,474.5 M307.2,418.5 L329.0,407.0 M553.9,505.6 L573.4,494.1 M439.3,413.0 L476.7,415.0 M479.2,440.0 L497.4,428.5 M382.2,422.5 L420.3,424.5 M419.5,449.5 L439.6,438.0 M353.1,484.0 L376.2,472.5 M292.4,468.5 L316.4,457.0 M542.3,455.6 L559.6,444.1 M439.6,438.0 L479.2,440.0" stroke="#8e8a8a" stroke-width="3" fill="none"/>
<ellipse cx="384.4" cy="398.5" rx="12.3" ry="5.6" fill="#333" opacity="0.8"/>
<ellipse cx="385.2" cy="397.5" rx="11.5" ry="4.6" fill="#c9c5c5" stroke="#666" stroke-width="0.8"/>
<ellipse cx="420.3" cy="400.5" rx="12.3" ry="5.6" fill="#333" opacity="0.8"/>
<ellipse cx="421.1" cy="399.5" rx="11.5" ry="4.6" fill="#c9c5c5" stroke="#666" stroke-width="0.8"/>
<ellipse cx="493.0" cy="404.5" rx="12.3" ry="5.6" fill="#333" opacity="0.8"/>
<ellipse cx="493.8" cy="403.5" rx="11.5" ry="4.6" fill="#c9c5c5" stroke="#666" stroke-width="0.8"/>
<ellipse cx="529.9" cy="406.6" rx="12.3" ry="5.6" fill="#333" opacity="0.8"/>
<ellipse cx="530.7" cy="405.6" rx="11.5" ry="4.6" fill="#c9c5c5" stroke="#666" stroke-width="0.8"/>
<ellipse cx="328.2" cy="408.0" rx="12.3" ry="5.6" fill="#333" opacity="0.8"/>
<ellipse cx="329.0" cy="407.0" rx="11.5" ry="4.6" fill="#c9c5c5" stroke="#666" stroke-width="0.8"/>
<ellipse cx="364.6" cy="410.0" rx="12.3" ry="5.6" fill="#333" opacity="0.8"/>
<ellipse cx="365.4" cy="409.0" rx="11.5" ry="4.6" fill="#c9c5c5" stroke="#666" stroke-width="0.8"/>
<ellipse cx="438.5" cy="414.0" rx="12.3" ry="5.6" fill="#333" opacity="0.8"/>
<ellipse cx="439.3" cy="413.0" rx="11.5" ry="4.6" fill="#c9c5c5" stroke="#666" stroke-width="0.8"/>
<ellipse cx="475.9" cy="416.0" rx="12.3" ry="5.6" fill="#333" opacity="0.8"/>
<ellipse cx="476.7" cy="415.0" rx="11.5" ry="4.6" fill="#c9c5c5" stroke="#666" stroke-width="0.8"/>
<ellipse cx="269.5" cy="417.4" rx="12.3" ry="5.6" fill="#333" opacity="0.8"/>
<ellipse cx="270.3" cy="416.4" rx="11.5" ry="4.6" fill="#c9c5c5" stroke="#666" stroke-width="0.8"/>
<ellipse cx="306.4" cy="419.5" rx="12.3" ry="5.6" fill="#333" opacity="0.8"/>
<ellipse cx="307.2" cy="418.5" rx="11.5" ry="4.6" fill="#c9c5c5" stroke="#666" stroke-width="0.8"/>
<ellipse cx="551.9" cy="420.1" rx="12.3" ry="5.6" fill="#333" opacity="0.8"/>
<ellipse cx="552.7" cy="419.1" rx="11.5" ry="4.6" fill="#c9c5c5" stroke="#666" stroke-width="0.8"/>
<ellipse cx="381.4" cy="423.5" rx="12.3" ry="5.6" fill="#333" opacity="0.8"/>
<ellipse cx="382.2" cy="422.5" rx="11.5" ry="4.6" fill="#c9c5c5" stroke="#666" stroke-width="0.8"/>
<ellipse cx="419.5" cy="425.5" rx="12.3" ry="5.6" fill="#333" opacity="0.8"/>
<ellipse cx="420.3" cy="424.5" rx="11.5" ry="4.6" fill="#c9c5c5" stroke="#666" stroke-width="0.8"/>
<ellipse cx="496.6" cy="429.5" rx="12.3" ry="5.6" fill="#333" opacity="0.8"/>
<ellipse cx="497.4" cy="428.5" rx="11.5" ry="4.6" fill="#c9c5c5" stroke="#666" stroke-width="0.8"/>
<ellipse cx="535.7" cy="431.6" rx="12.3" ry="5.6" fill="#333" opacity="0.8"/>
<ellipse cx="536.5" cy="430.6" rx="11.5" ry="4.6" fill="#c9c5c5" stroke="#666" stroke-width="0.8"/>
<ellipse cx="321.9" cy="433.0" rx="12.3" ry="5.6" fill="#333" opacity="0.8"/>
<ellipse cx="322.7" cy="432.0" rx="11.5" ry="4.6" fill="#c9c5c5" stroke="#666" stroke-width="0.8"/>
<ellipse cx="360.5" cy="435.0" rx="12.3" ry="5.6" fill="#333" opacity="0.8"/>
<ellipse cx="361.3" cy="434.0" rx="11.5" ry="4.6" fill="#c9c5c5" stroke="#666" stroke-width="0.8"/>
<ellipse cx="438.8" cy="439.0" rx="12.3" ry="5.6" fill="#333" opacity="0.8"/>
<ellipse cx="439.6" cy="438.0" rx="11.5" ry="4.6" fill="#c9c5c5" stroke="#666" stroke-width="0.8"/>
<ellipse cx="478.4" cy="441.0" rx="12.3" ry="5.6" fill="#333" opacity="0.8"/>
<ellipse cx="479.2" cy="440.0" rx="11.5" ry="4.6" fill="#c9c5c5" stroke="#666" stroke-width="0.8"/>
<ellipse cx="259.9" cy="442.4" rx="12.3" ry="5.6" fill="#333" opacity="0.8"/>
<ellipse cx="260.7" cy="441.4" rx="11.5" ry="4.6" fill="#c9c5c5" stroke="#666" stroke-width="0.8"/>
<ellipse cx="299.0" cy="444.5" rx="12.3" ry="5.6" fill="#333" opacity="0.8"/>
<ellipse cx="299.8" cy="443.5" rx="11.5" ry="4.6" fill="#c9c5c5" stroke="#666" stroke-width="0.8"/>
<ellipse cx="558.8" cy="445.1" rx="12.3" ry="5.6" fill="#333" opacity="0.8"/>
<ellipse cx="559.6" cy="444.1" rx="11.5" ry="4.6" fill="#c9c5c5" stroke="#666" stroke-width="0.8"/>
<ellipse cx="378.4" cy="448.5" rx="12.3" ry="5.6" fill="#333" opacity="0.8"/>
<ellipse cx="379.2" cy="447.5" rx="11.5" ry="4.6" fill="#c9c5c5" stroke="#666" stroke-width="0.8"/>
<ellipse cx="418.7" cy="450.5" rx="12.3" ry="5.6" fill="#333" opacity="0.8"/>
<ellipse cx="419.5" cy="449.5" rx="11.5" ry="4.6" fill="#c9c5c5" stroke="#666" stroke-width="0.8"/>
<ellipse cx="500.2" cy="454.5" rx="12.3" ry="5.6" fill="#333" opacity="0.8"/>
<ellipse cx="501.0" cy="453.5" rx="11.5" ry="4.6" fill="#c9c5c5" stroke="#666" stroke-width="0.8"/>
<ellipse cx="541.5" cy="456.6" rx="12.3" ry="5.6" fill="#333" opacity="0.8"/>
<ellipse cx="542.3" cy="455.6" rx="11.5" ry="4.6" fill="#c9c5c5" stroke="#666" stroke-width="0.8"/>
<ellipse cx="315.6" cy="458.0" rx="12.3" ry="5.6" fill="#333" opacity="0.8"/>
<ellipse cx="316.4" cy="457.0" rx="11.5" ry="4.6" fill="#c9c5c5" stroke="#666" stroke-width="0.8"/>
<ellipse cx="356.4" cy="460.0" rx="12.3" ry="5.6" fill="#333" opacity="0.8"/>
<ellipse cx="357.2" cy="459.0" rx="11.5" ry="4.6" fill="#c9c5c5" stroke="#666" stroke-width="0.8"/>
<ellipse cx="439.1" cy="464.0" rx="12.3" ry="5.6" fill="#333" opacity="0.8"/>
<ellipse cx="439.9" cy="463.0" rx="11.5" ry="4.6" fill="#c9c5c5" stroke="#666" stroke-width="0.8"/>
<ellipse cx="480.9" cy="466.0" rx="12.3" ry="5.6" fill="#333" opacity="0.8"/>
<ellipse cx="481.7" cy="465.0" rx="11.5" ry="4.6" fill="#c9c5c5" stroke="#666" stroke-width="0.8"/>
<ellipse cx="250.3" cy="467.4" rx="12.3" ry="5.6" fill="#333" opacity="0.8"/>
<ellipse cx="251.1" cy="466.4" rx="11.5" ry="4.6" fill="#c9c5c5" stroke="#666" stroke-width="0.8"/>
<ellipse cx="291.6" cy="469.5" rx="12.3" ry="5.6" fill="#333" opacity="0.8"/>
<ellipse cx="292.4" cy="468.5" rx="11.5" ry="4.6" fill="#c9c5c5" stroke="#666" stroke-width="0.8"/>
<ellipse cx="565.7" cy="470.1" rx="12.3" ry="5.6" fill="#333" opacity="0.8"/>
<ellipse cx="566.5" cy="469.1" rx="11.5" ry="4.6" fill="#c9c5c5" stroke="#666" stroke-width="0.8"/>
<ellipse cx="375.4" cy="473.5" rx="12.3" ry="5.6" fill="#333" opacity="0.8"/>
<ellipse cx="376.2" cy="472.5" rx="11.5" ry="4.6" fill="#c9c5c5" stroke="#666" stroke-width="0.8"/>
<ellipse cx="417.9" cy="475.5" rx="12.3" ry="5.6" fill="#333" opacity="0.8"/>
<ellipse cx="418.7" cy="474.5" rx="11.5" ry="4.6" fill="#c9c5c5" stroke="#666" stroke-width="0.8"/>
<ellipse cx="503.8" cy="479.5" rx="12.3" ry="5.6" fill="#333" opacity="0.8"/>
<ellipse cx="504.6" cy="478.5" rx="11.5" ry="4.6" fill="#c9c5c5" stroke="#666" stroke-width="0.8"/>
<ellipse cx="547.3" cy="481.6" rx="12.3" ry="5.6" fill="#333" opacity="0.8"/>
<ellipse cx="548.1" cy="480.6" rx="11.5" ry="4.6" fill="#c9c5c5" stroke="#666" stroke-width="0.8"/>
<ellipse cx="309.3" cy="483.0" rx="12.3" ry="5.6" fill="#333" opacity="0.8"/>
<ellipse cx="310.1" cy="482.0" rx="11.5" ry="4.6" fill="#c9c5c5" stroke="#666" stroke-width="0.8"/>
<ellipse cx="352.3" cy="485.0" rx="12.3" ry="5.6" fill="#333" opacity="0.8"/>
<ellipse cx="353.1" cy="484.0" rx="11.5" ry="4.6" fill="#c9c5c5" stroke="#666" stroke-width="0.8"/>
<ellipse cx="439.4" cy="489.0" rx="12.3" ry="5.6" fill="#333" opacity="0.8"/>
<ellipse cx="440.2" cy="488.0" rx="11.5" ry="4.6" fill="#c9c5c5" stroke="#666" stroke-width="0.8"/>
<ellipse cx="483.4" cy="491.0" rx="12.3" ry="5.6" fill="#333" opacity="0.8"/>
<ellipse cx="484.2" cy="490.0" rx="11.5" ry="4.6" fill="#c9c5c5" stroke="#666" stroke-width="0.8"/>
<ellipse cx="240.6" cy="492.4" rx="12.3" ry="5.6" fill="#333" opacity="0.8"/>
<ellipse cx="241.4" cy="491.4" rx="11.5" ry="4.6" fill="#c9c5c5" stroke="#666" stroke-width="0.8"/>
<ellipse cx="284.2" cy="494.5" rx="12.3" ry="5.6" fill="#333" opacity="0.8"/>
<ellipse cx="285.0" cy="493.5" rx="11.5" ry="4.6" fill="#c9c5c5" stroke="#666" stroke-width="0.8"/>
<ellipse cx="572.6" cy="495.1" rx="12.3" ry="5.6" fill="#333" opacity="0.8"/>
<ellipse cx="573.4" cy="494.1" rx="11.5" ry="4.6" fill="#c9c5c5" stroke="#666" stroke-width="0.8"/>
<ellipse cx="372.4" cy="498.5" rx="12.3" ry="5.6" fill="#333" opacity="0.8"/>
<ellipse cx="373.2" cy="497.5" rx="11.5" ry="4.6" fill="#c9c5c5" stroke="#666" stroke-width="0.8"/>
<ellipse cx="417.1" cy="500.5" rx="12.3" ry="5.6" fill="#333" opacity="0.8"/>
<ellipse cx="417.9" cy="499.5" rx="11.5" ry="4.6" fill="#c9c5c5" stroke="#666" stroke-width="0.8"/>
<ellipse cx="507.4" cy="504.5" rx="12.3" ry="5.6" fill="#333" opacity="0.8"/>
<ellipse cx="508.2" cy="503.5" rx="11.5" ry="4.6" fill="#c9c5c5" stroke="#666" stroke-width="0.8"/>
<ellipse cx="553.1" cy="506.6" rx="12.3" ry="5.6" fill="#333" opacity="0.8"/>
<ellipse cx="553.9" cy="505.6" rx="11.5" ry="4.6" fill="#c9c5c5" stroke="#666" stroke-width="0.8"/>
<ellipse cx="303.0" cy="508.0" rx="12.3" ry="5.6" fill="#333" opacity="0.8"/>
<ellipse cx="303.8" cy="507.0" rx="11.5" ry="4.6" fill="#c9c5c5" stroke="#666" stroke-width="0.8"/>
</g>
<circle cx="397.0" cy="413.0" r="10" fill="url(#gold)"/><circle cx="397.0" cy="413.0" r="10" fill="url(#goldrim)"/>
<path d="M398.0,336.0 L388.0,331.5 M398.0,336.0 L409.0,333.0 M409.0,333.0 L408.5,325.0 M398.0,336.0 L398.5,348.5 M398.5,348.5 L387.5,354.5 M398.5,348.5 L410.0,354.0 M387.5,354.5 L387.5,366.5 M410.0,354.0 L410.0,367.0 M387.5,366.5 L399.0,374.0 M410.0,367.0 L399.0,374.0 M399.0,374.0 L400.0,389.0 M387.5,354.5 L379.0,350.0 M410.0,354.0 L419.0,348.0 M387.5,366.5 L380.0,371.0 M410.0,367.0 L418.0,371.0" stroke="#8f8f8f" stroke-width="1.7" fill="none"/>
<circle cx="379.0" cy="350.0" r="1.7" fill="#e8e8e8" stroke="#999" stroke-width="0.5"/>
<circle cx="419.0" cy="348.0" r="1.7" fill="#e8e8e8" stroke="#999" stroke-width="0.5"/>
<circle cx="380.0" cy="371.0" r="1.7" fill="#e8e8e8" stroke="#999" stroke-width="0.5"/>
<circle cx="418.0" cy="371.0" r="1.7" fill="#e8e8e8" stroke="#999" stroke-width="0.5"/>
<circle cx="408.5" cy="325.0" r="1.7" fill="#e8e8e8" stroke="#999" stroke-width="0.5"/>
<circle cx="400.0" cy="389.0" r="5" fill="url(#sul)"/>
<circle cx="399.0" cy="374.0" r="3.65" fill="url(#carb)"/>
<circle cx="387.5" cy="366.5" r="3.65" fill="url(#carb)"/>
<circle cx="410.0" cy="367.0" r="3.65" fill="url(#carb)"/>
<circle cx="387.5" cy="354.5" r="3.65" fill="url(#carb)"/>
<circle cx="410.0" cy="354.0" r="3.65" fill="url(#carb)"/>
<circle cx="398.5" cy="348.5" r="3.65" fill="url(#carb)"/>
<circle cx="398.0" cy="336.0" r="3.65" fill="url(#carb)"/>
<circle cx="388.0" cy="331.5" r="3.35" fill="url(#oxy)"/>
<circle cx="409.0" cy="333.0" r="3.35" fill="url(#oxy)"/>
<circle cx="307.0" cy="412.0" r="10" fill="url(#gold)"/><circle cx="307.0" cy="412.0" r="10" fill="url(#goldrim)"/>
<path d="M298.0,338.0 L288.0,333.5 M298.0,338.0 L309.0,335.0 M309.0,335.0 L308.5,327.0 M298.0,338.0 L298.5,350.5 M298.5,350.5 L287.5,356.5 M298.5,350.5 L310.0,356.0 M287.5,356.5 L287.5,368.5 M310.0,356.0 L310.0,369.0 M287.5,368.5 L299.0,376.0 M310.0,369.0 L299.0,376.0 M299.0,376.0 L300.0,391.0 M287.5,356.5 L279.0,352.0 M310.0,356.0 L319.0,350.0 M287.5,368.5 L280.0,373.0 M310.0,369.0 L318.0,373.0" stroke="#8f8f8f" stroke-width="1.7" fill="none"/>
<circle cx="279.0" cy="352.0" r="1.7" fill="#e8e8e8" stroke="#999" stroke-width="0.5"/>
<circle cx="319.0" cy="350.0" r="1.7" fill="#e8e8e8" stroke="#999" stroke-width="0.5"/>
<circle cx="280.0" cy="373.0" r="1.7" fill="#e8e8e8" stroke="#999" stroke-width="0.5"/>
<circle cx="318.0" cy="373.0" r="1.7" fill="#e8e8e8" stroke="#999" stroke-width="0.5"/>
<circle cx="308.5" cy="327.0" r="1.7" fill="#e8e8e8" stroke="#999" stroke-width="0.5"/>
<circle cx="300.0" cy="391.0" r="5" fill="url(#sul)"/>
<circle cx="299.0" cy="376.0" r="3.65" fill="url(#carb)"/>
<circle cx="287.5" cy="368.5" r="3.65" fill="url(#carb)"/>
<circle cx="310.0" cy="369.0" r="3.65" fill="url(#carb)"/>
<circle cx="287.5" cy="356.5" r="3.65" fill="url(#carb)"/>
<circle cx="310.0" cy="356.0" r="3.65" fill="url(#carb)"/>
<circle cx="298.5" cy="350.5" r="3.65" fill="url(#carb)"/>
<circle cx="298.0" cy="338.0" r="3.65" fill="url(#carb)"/>
<circle cx="288.0" cy="333.5" r="3.35" fill="url(#oxy)"/>
<circle cx="309.0" cy="335.0" r="3.35" fill="url(#oxy)"/>
<circle cx="514.0" cy="416.0" r="10" fill="url(#gold)"/><circle cx="514.0" cy="416.0" r="10" fill="url(#goldrim)"/>
<path d="M511.0,342.0 L501.0,337.5 M511.0,342.0 L522.0,339.0 M522.0,339.0 L521.5,331.0 M511.0,342.0 L511.5,354.5 M511.5,354.5 L500.5,360.5 M511.5,354.5 L523.0,360.0 M500.5,360.5 L500.5,372.5 M523.0,360.0 L523.0,373.0 M500.5,372.5 L512.0,380.0 M523.0,373.0 L512.0,380.0 M512.0,380.0 L513.0,395.0 M500.5,360.5 L492.0,356.0 M523.0,360.0 L532.0,354.0 M500.5,372.5 L493.0,377.0 M523.0,373.0 L531.0,377.0" stroke="#8f8f8f" stroke-width="1.7" fill="none"/>
<circle cx="492.0" cy="356.0" r="1.7" fill="#e8e8e8" stroke="#999" stroke-width="0.5"/>
<circle cx="532.0" cy="354.0" r="1.7" fill="#e8e8e8" stroke="#999" stroke-width="0.5"/>
<circle cx="493.0" cy="377.0" r="1.7" fill="#e8e8e8" stroke="#999" stroke-width="0.5"/>
<circle cx="531.0" cy="377.0" r="1.7" fill="#e8e8e8" stroke="#999" stroke-width="0.5"/>
<circle cx="521.5" cy="331.0" r="1.7" fill="#e8e8e8" stroke="#999" stroke-width="0.5"/>
<circle cx="513.0" cy="395.0" r="5" fill="url(#sul)"/>
<circle cx="512.0" cy="380.0" r="3.65" fill="url(#carb)"/>
<circle cx="500.5" cy="372.5" r="3.65" fill="url(#carb)"/>
<circle cx="523.0" cy="373.0" r="3.65" fill="url(#carb)"/>
<circle cx="500.5" cy="360.5" r="3.65" fill="url(#carb)"/>
<circle cx="523.0" cy="360.0" r="3.65" fill="url(#carb)"/>
<circle cx="511.5" cy="354.5" r="3.65" fill="url(#carb)"/>
<circle cx="511.0" cy="342.0" r="3.65" fill="url(#carb)"/>
<circle cx="501.0" cy="337.5" r="3.35" fill="url(#oxy)"/>
<circle cx="522.0" cy="339.0" r="3.35" fill="url(#oxy)"/>
<circle cx="342.0" cy="434.5" r="10" fill="url(#gold)"/><circle cx="342.0" cy="434.5" r="10" fill="url(#goldrim)"/>
<path d="M342.0,357.0 L332.0,352.5 M342.0,357.0 L353.0,354.0 M353.0,354.0 L352.5,346.0 M342.0,357.0 L342.5,369.5 M342.5,369.5 L331.5,375.5 M342.5,369.5 L354.0,375.0 M331.5,375.5 L331.5,387.5 M354.0,375.0 L354.0,388.0 M331.5,387.5 L343.0,395.0 M354.0,388.0 L343.0,395.0 M343.0,395.0 L344.0,410.0 M331.5,375.5 L323.0,371.0 M354.0,375.0 L363.0,369.0 M331.5,387.5 L324.0,392.0 M354.0,388.0 L362.0,392.0" stroke="#8f8f8f" stroke-width="1.7" fill="none"/>
<circle cx="323.0" cy="371.0" r="1.7" fill="#e8e8e8" stroke="#999" stroke-width="0.5"/>
<circle cx="363.0" cy="369.0" r="1.7" fill="#e8e8e8" stroke="#999" stroke-width="0.5"/>
<circle cx="324.0" cy="392.0" r="1.7" fill="#e8e8e8" stroke="#999" stroke-width="0.5"/>
<circle cx="362.0" cy="392.0" r="1.7" fill="#e8e8e8" stroke="#999" stroke-width="0.5"/>
<circle cx="352.5" cy="346.0" r="1.7" fill="#e8e8e8" stroke="#999" stroke-width="0.5"/>
<circle cx="344.0" cy="410.0" r="5" fill="url(#sul)"/>
<circle cx="343.0" cy="395.0" r="3.65" fill="url(#carb)"/>
<circle cx="331.5" cy="387.5" r="3.65" fill="url(#carb)"/>
<circle cx="354.0" cy="388.0" r="3.65" fill="url(#carb)"/>
<circle cx="331.5" cy="375.5" r="3.65" fill="url(#carb)"/>
<circle cx="354.0" cy="375.0" r="3.65" fill="url(#carb)"/>
<circle cx="342.5" cy="369.5" r="3.65" fill="url(#carb)"/>
<circle cx="342.0" cy="357.0" r="3.65" fill="url(#carb)"/>
<circle cx="332.0" cy="352.5" r="3.35" fill="url(#oxy)"/>
<circle cx="353.0" cy="354.0" r="3.35" fill="url(#oxy)"/>
<circle cx="471.0" cy="435.0" r="10" fill="url(#gold)"/><circle cx="471.0" cy="435.0" r="10" fill="url(#goldrim)"/>
<path d="M466.0,361.0 L456.0,356.5 M466.0,361.0 L477.0,358.0 M477.0,358.0 L476.5,350.0 M466.0,361.0 L466.5,373.5 M466.5,373.5 L455.5,379.5 M466.5,373.5 L478.0,379.0 M455.5,379.5 L455.5,391.5 M478.0,379.0 L478.0,392.0 M455.5,391.5 L467.0,399.0 M478.0,392.0 L467.0,399.0 M467.0,399.0 L468.0,414.0 M455.5,379.5 L447.0,375.0 M478.0,379.0 L487.0,373.0 M455.5,391.5 L448.0,396.0 M478.0,392.0 L486.0,396.0" stroke="#8f8f8f" stroke-width="1.7" fill="none"/>
<circle cx="447.0" cy="375.0" r="1.7" fill="#e8e8e8" stroke="#999" stroke-width="0.5"/>
<circle cx="487.0" cy="373.0" r="1.7" fill="#e8e8e8" stroke="#999" stroke-width="0.5"/>
<circle cx="448.0" cy="396.0" r="1.7" fill="#e8e8e8" stroke="#999" stroke-width="0.5"/>
<circle cx="486.0" cy="396.0" r="1.7" fill="#e8e8e8" stroke="#999" stroke-width="0.5"/>
<circle cx="476.5" cy="350.0" r="1.7" fill="#e8e8e8" stroke="#999" stroke-width="0.5"/>
<circle cx="468.0" cy="414.0" r="5" fill="url(#sul)"/>
<circle cx="467.0" cy="399.0" r="3.65" fill="url(#carb)"/>
<circle cx="455.5" cy="391.5" r="3.65" fill="url(#carb)"/>
<circle cx="478.0" cy="392.0" r="3.65" fill="url(#carb)"/>
<circle cx="455.5" cy="379.5" r="3.65" fill="url(#carb)"/>
<circle cx="478.0" cy="379.0" r="3.65" fill="url(#carb)"/>
<circle cx="466.5" cy="373.5" r="3.65" fill="url(#carb)"/>
<circle cx="466.0" cy="361.0" r="3.65" fill="url(#carb)"/>
<circle cx="456.0" cy="356.5" r="3.35" fill="url(#oxy)"/>
<circle cx="477.0" cy="358.0" r="3.35" fill="url(#oxy)"/>
<circle cx="417.0" cy="445.0" r="10" fill="url(#gold)"/><circle cx="417.0" cy="445.0" r="10" fill="url(#goldrim)"/>
<path d="M417.0,371.0 L407.0,366.5 M417.0,371.0 L428.0,368.0 M428.0,368.0 L427.5,360.0 M417.0,371.0 L417.5,383.5 M417.5,383.5 L406.5,389.5 M417.5,383.5 L429.0,389.0 M406.5,389.5 L406.5,401.5 M429.0,389.0 L429.0,402.0 M406.5,401.5 L418.0,409.0 M429.0,402.0 L418.0,409.0 M418.0,409.0 L419.0,424.0 M406.5,389.5 L398.0,385.0 M429.0,389.0 L438.0,383.0 M406.5,401.5 L399.0,406.0 M429.0,402.0 L437.0,406.0" stroke="#8f8f8f" stroke-width="1.7" fill="none"/>
<circle cx="398.0" cy="385.0" r="1.7" fill="#e8e8e8" stroke="#999" stroke-width="0.5"/>
<circle cx="438.0" cy="383.0" r="1.7" fill="#e8e8e8" stroke="#999" stroke-width="0.5"/>
<circle cx="399.0" cy="406.0" r="1.7" fill="#e8e8e8" stroke="#999" stroke-width="0.5"/>
<circle cx="437.0" cy="406.0" r="1.7" fill="#e8e8e8" stroke="#999" stroke-width="0.5"/>
<circle cx="427.5" cy="360.0" r="1.7" fill="#e8e8e8" stroke="#999" stroke-width="0.5"/>
<circle cx="419.0" cy="424.0" r="5" fill="url(#sul)"/>
<circle cx="418.0" cy="409.0" r="3.65" fill="url(#carb)"/>
<circle cx="406.5" cy="401.5" r="3.65" fill="url(#carb)"/>
<circle cx="429.0" cy="402.0" r="3.65" fill="url(#carb)"/>
<circle cx="406.5" cy="389.5" r="3.65" fill="url(#carb)"/>
<circle cx="429.0" cy="389.0" r="3.65" fill="url(#carb)"/>
<circle cx="417.5" cy="383.5" r="3.65" fill="url(#carb)"/>
<circle cx="417.0" cy="371.0" r="3.65" fill="url(#carb)"/>
<circle cx="407.0" cy="366.5" r="3.35" fill="url(#oxy)"/>
<circle cx="428.0" cy="368.0" r="3.35" fill="url(#oxy)"/>
<circle cx="526.0" cy="446.0" r="10" fill="url(#gold)"/><circle cx="526.0" cy="446.0" r="10" fill="url(#goldrim)"/>
<path d="M524.0,373.0 L514.0,368.5 M524.0,373.0 L535.0,370.0 M535.0,370.0 L534.5,362.0 M524.0,373.0 L524.5,385.5 M524.5,385.5 L513.5,391.5 M524.5,385.5 L536.0,391.0 M513.5,391.5 L513.5,403.5 M536.0,391.0 L536.0,404.0 M513.5,403.5 L525.0,411.0 M536.0,404.0 L525.0,411.0 M525.0,411.0 L526.0,426.0 M513.5,391.5 L505.0,387.0 M536.0,391.0 L545.0,385.0 M513.5,403.5 L506.0,408.0 M536.0,404.0 L544.0,408.0" stroke="#8f8f8f" stroke-width="1.7" fill="none"/>
<circle cx="505.0" cy="387.0" r="1.7" fill="#e8e8e8" stroke="#999" stroke-width="0.5"/>
<circle cx="545.0" cy="385.0" r="1.7" fill="#e8e8e8" stroke="#999" stroke-width="0.5"/>
<circle cx="506.0" cy="408.0" r="1.7" fill="#e8e8e8" stroke="#999" stroke-width="0.5"/>
<circle cx="544.0" cy="408.0" r="1.7" fill="#e8e8e8" stroke="#999" stroke-width="0.5"/>
<circle cx="534.5" cy="362.0" r="1.7" fill="#e8e8e8" stroke="#999" stroke-width="0.5"/>
<circle cx="526.0" cy="426.0" r="5" fill="url(#sul)"/>
<circle cx="525.0" cy="411.0" r="3.65" fill="url(#carb)"/>
<circle cx="513.5" cy="403.5" r="3.65" fill="url(#carb)"/>
<circle cx="536.0" cy="404.0" r="3.65" fill="url(#carb)"/>
<circle cx="513.5" cy="391.5" r="3.65" fill="url(#carb)"/>
<circle cx="536.0" cy="391.0" r="3.65" fill="url(#carb)"/>
<circle cx="524.5" cy="385.5" r="3.65" fill="url(#carb)"/>
<circle cx="524.0" cy="373.0" r="3.65" fill="url(#carb)"/>
<circle cx="514.0" cy="368.5" r="3.35" fill="url(#oxy)"/>
<circle cx="535.0" cy="370.0" r="3.35" fill="url(#oxy)"/>
<circle cx="299.0" cy="460.0" r="10" fill="url(#gold)"/><circle cx="299.0" cy="460.0" r="10" fill="url(#goldrim)"/>
<path d="M300.0,379.0 L290.0,374.5 M300.0,379.0 L311.0,376.0 M311.0,376.0 L310.5,368.0 M300.0,379.0 L300.5,391.5 M300.5,391.5 L289.5,397.5 M300.5,391.5 L312.0,397.0 M289.5,397.5 L289.5,409.5 M312.0,397.0 L312.0,410.0 M289.5,409.5 L301.0,417.0 M312.0,410.0 L301.0,417.0 M301.0,417.0 L302.0,432.0 M289.5,397.5 L281.0,393.0 M312.0,397.0 L321.0,391.0 M289.5,409.5 L282.0,414.0 M312.0,410.0 L320.0,414.0" stroke="#8f8f8f" stroke-width="1.7" fill="none"/>
<circle cx="281.0" cy="393.0" r="1.7" fill="#e8e8e8" stroke="#999" stroke-width="0.5"/>
<circle cx="321.0" cy="391.0" r="1.7" fill="#e8e8e8" stroke="#999" stroke-width="0.5"/>
<circle cx="282.0" cy="414.0" r="1.7" fill="#e8e8e8" stroke="#999" stroke-width="0.5"/>
<circle cx="320.0" cy="414.0" r="1.7" fill="#e8e8e8" stroke="#999" stroke-width="0.5"/>
<circle cx="310.5" cy="368.0" r="1.7" fill="#e8e8e8" stroke="#999" stroke-width="0.5"/>
<circle cx="302.0" cy="432.0" r="5" fill="url(#sul)"/>
<circle cx="301.0" cy="417.0" r="3.65" fill="url(#carb)"/>
<circle cx="289.5" cy="409.5" r="3.65" fill="url(#carb)"/>
<circle cx="312.0" cy="410.0" r="3.65" fill="url(#carb)"/>
<circle cx="289.5" cy="397.5" r="3.65" fill="url(#carb)"/>
<circle cx="312.0" cy="397.0" r="3.65" fill="url(#carb)"/>
<circle cx="300.5" cy="391.5" r="3.65" fill="url(#carb)"/>
<circle cx="300.0" cy="379.0" r="3.65" fill="url(#carb)"/>
<circle cx="290.0" cy="374.5" r="3.35" fill="url(#oxy)"/>
<circle cx="311.0" cy="376.0" r="3.35" fill="url(#oxy)"/>
<circle cx="379.0" cy="463.0" r="10" fill="url(#gold)"/><circle cx="379.0" cy="463.0" r="10" fill="url(#goldrim)"/>
<path d="M377.0,389.0 L367.0,384.5 M377.0,389.0 L388.0,386.0 M388.0,386.0 L387.5,378.0 M377.0,389.0 L377.5,401.5 M377.5,401.5 L366.5,407.5 M377.5,401.5 L389.0,407.0 M366.5,407.5 L366.5,419.5 M389.0,407.0 L389.0,420.0 M366.5,419.5 L378.0,427.0 M389.0,420.0 L378.0,427.0 M378.0,427.0 L379.0,442.0 M366.5,407.5 L358.0,403.0 M389.0,407.0 L398.0,401.0 M366.5,419.5 L359.0,424.0 M389.0,420.0 L397.0,424.0" stroke="#8f8f8f" stroke-width="1.7" fill="none"/>
<circle cx="358.0" cy="403.0" r="1.7" fill="#e8e8e8" stroke="#999" stroke-width="0.5"/>
<circle cx="398.0" cy="401.0" r="1.7" fill="#e8e8e8" stroke="#999" stroke-width="0.5"/>
<circle cx="359.0" cy="424.0" r="1.7" fill="#e8e8e8" stroke="#999" stroke-width="0.5"/>
<circle cx="397.0" cy="424.0" r="1.7" fill="#e8e8e8" stroke="#999" stroke-width="0.5"/>
<circle cx="387.5" cy="378.0" r="1.7" fill="#e8e8e8" stroke="#999" stroke-width="0.5"/>
<circle cx="379.0" cy="442.0" r="5" fill="url(#sul)"/>
<circle cx="378.0" cy="427.0" r="3.65" fill="url(#carb)"/>
<circle cx="366.5" cy="419.5" r="3.65" fill="url(#carb)"/>
<circle cx="389.0" cy="420.0" r="3.65" fill="url(#carb)"/>
<circle cx="366.5" cy="407.5" r="3.65" fill="url(#carb)"/>
<circle cx="389.0" cy="407.0" r="3.65" fill="url(#carb)"/>
<circle cx="377.5" cy="401.5" r="3.65" fill="url(#carb)"/>
<circle cx="377.0" cy="389.0" r="3.65" fill="url(#carb)"/>
<circle cx="367.0" cy="384.5" r="3.35" fill="url(#oxy)"/>
<circle cx="388.0" cy="386.0" r="3.35" fill="url(#oxy)"/>
<circle cx="474.0" cy="478.0" r="10" fill="url(#gold)"/><circle cx="474.0" cy="478.0" r="10" fill="url(#goldrim)"/>
<path d="M472.0,401.0 L462.0,396.5 M472.0,401.0 L483.0,398.0 M483.0,398.0 L482.5,390.0 M472.0,401.0 L472.5,413.5 M472.5,413.5 L461.5,419.5 M472.5,413.5 L484.0,419.0 M461.5,419.5 L461.5,431.5 M484.0,419.0 L484.0,432.0 M461.5,431.5 L473.0,439.0 M484.0,432.0 L473.0,439.0 M473.0,439.0 L474.0,454.0 M461.5,419.5 L453.0,415.0 M484.0,419.0 L493.0,413.0 M461.5,431.5 L454.0,436.0 M484.0,432.0 L492.0,436.0" stroke="#8f8f8f" stroke-width="1.7" fill="none"/>
<circle cx="453.0" cy="415.0" r="1.7" fill="#e8e8e8" stroke="#999" stroke-width="0.5"/>
<circle cx="493.0" cy="413.0" r="1.7" fill="#e8e8e8" stroke="#999" stroke-width="0.5"/>
<circle cx="454.0" cy="436.0" r="1.7" fill="#e8e8e8" stroke="#999" stroke-width="0.5"/>
<circle cx="492.0" cy="436.0" r="1.7" fill="#e8e8e8" stroke="#999" stroke-width="0.5"/>
<circle cx="482.5" cy="390.0" r="1.7" fill="#e8e8e8" stroke="#999" stroke-width="0.5"/>
<circle cx="474.0" cy="454.0" r="5" fill="url(#sul)"/>
<circle cx="473.0" cy="439.0" r="3.65" fill="url(#carb)"/>
<circle cx="461.5" cy="431.5" r="3.65" fill="url(#carb)"/>
<circle cx="484.0" cy="432.0" r="3.65" fill="url(#carb)"/>
<circle cx="461.5" cy="419.5" r="3.65" fill="url(#carb)"/>
<circle cx="484.0" cy="419.0" r="3.65" fill="url(#carb)"/>
<circle cx="472.5" cy="413.5" r="3.65" fill="url(#carb)"/>
<circle cx="472.0" cy="401.0" r="3.65" fill="url(#carb)"/>
<circle cx="462.0" cy="396.5" r="3.35" fill="url(#oxy)"/>
<circle cx="483.0" cy="398.0" r="3.35" fill="url(#oxy)"/>
<circle cx="260.0" cy="478.0" r="10" fill="url(#gold)"/><circle cx="260.0" cy="478.0" r="10" fill="url(#goldrim)"/>
<path d="M259.0,405.0 L249.0,400.5 M259.0,405.0 L270.0,402.0 M270.0,402.0 L269.5,394.0 M259.0,405.0 L259.5,417.5 M259.5,417.5 L248.5,423.5 M259.5,417.5 L271.0,423.0 M248.5,423.5 L248.5,435.5 M271.0,423.0 L271.0,436.0 M248.5,435.5 L260.0,443.0 M271.0,436.0 L260.0,443.0 M260.0,443.0 L261.0,458.0 M248.5,423.5 L240.0,419.0 M271.0,423.0 L280.0,417.0 M248.5,435.5 L241.0,440.0 M271.0,436.0 L279.0,440.0" stroke="#8f8f8f" stroke-width="1.7" fill="none"/>
<circle cx="240.0" cy="419.0" r="1.7" fill="#e8e8e8" stroke="#999" stroke-width="0.5"/>
<circle cx="280.0" cy="417.0" r="1.7" fill="#e8e8e8" stroke="#999" stroke-width="0.5"/>
<circle cx="241.0" cy="440.0" r="1.7" fill="#e8e8e8" stroke="#999" stroke-width="0.5"/>
<circle cx="279.0" cy="440.0" r="1.7" fill="#e8e8e8" stroke="#999" stroke-width="0.5"/>
<circle cx="269.5" cy="394.0" r="1.7" fill="#e8e8e8" stroke="#999" stroke-width="0.5"/>
<circle cx="261.0" cy="458.0" r="5" fill="url(#sul)"/>
<circle cx="260.0" cy="443.0" r="3.65" fill="url(#carb)"/>
<circle cx="248.5" cy="435.5" r="3.65" fill="url(#carb)"/>
<circle cx="271.0" cy="436.0" r="3.65" fill="url(#carb)"/>
<circle cx="248.5" cy="423.5" r="3.65" fill="url(#carb)"/>
<circle cx="271.0" cy="423.0" r="3.65" fill="url(#carb)"/>
<circle cx="259.5" cy="417.5" r="3.65" fill="url(#carb)"/>
<circle cx="259.0" cy="405.0" r="3.65" fill="url(#carb)"/>
<circle cx="249.0" cy="400.5" r="3.35" fill="url(#oxy)"/>
<circle cx="270.0" cy="402.0" r="3.35" fill="url(#oxy)"/>
<circle cx="542.0" cy="489.0" r="10" fill="url(#gold)"/><circle cx="542.0" cy="489.0" r="10" fill="url(#goldrim)"/>
<path d="M537.0,416.0 L527.0,411.5 M537.0,416.0 L548.0,413.0 M548.0,413.0 L547.5,405.0 M537.0,416.0 L537.5,428.5 M537.5,428.5 L526.5,434.5 M537.5,428.5 L549.0,434.0 M526.5,434.5 L526.5,446.5 M549.0,434.0 L549.0,447.0 M526.5,446.5 L538.0,454.0 M549.0,447.0 L538.0,454.0 M538.0,454.0 L539.0,469.0 M526.5,434.5 L518.0,430.0 M549.0,434.0 L558.0,428.0 M526.5,446.5 L519.0,451.0 M549.0,447.0 L557.0,451.0" stroke="#8f8f8f" stroke-width="1.7" fill="none"/>
<circle cx="518.0" cy="430.0" r="1.7" fill="#e8e8e8" stroke="#999" stroke-width="0.5"/>
<circle cx="558.0" cy="428.0" r="1.7" fill="#e8e8e8" stroke="#999" stroke-width="0.5"/>
<circle cx="519.0" cy="451.0" r="1.7" fill="#e8e8e8" stroke="#999" stroke-width="0.5"/>
<circle cx="557.0" cy="451.0" r="1.7" fill="#e8e8e8" stroke="#999" stroke-width="0.5"/>
<circle cx="547.5" cy="405.0" r="1.7" fill="#e8e8e8" stroke="#999" stroke-width="0.5"/>
<circle cx="539.0" cy="469.0" r="5" fill="url(#sul)"/>
<circle cx="538.0" cy="454.0" r="3.65" fill="url(#carb)"/>
<circle cx="526.5" cy="446.5" r="3.65" fill="url(#carb)"/>
<circle cx="549.0" cy="447.0" r="3.65" fill="url(#carb)"/>
<circle cx="526.5" cy="434.5" r="3.65" fill="url(#carb)"/>
<circle cx="549.0" cy="434.0" r="3.65" fill="url(#carb)"/>
<circle cx="537.5" cy="428.5" r="3.65" fill="url(#carb)"/>
<circle cx="537.0" cy="416.0" r="3.65" fill="url(#carb)"/>
<circle cx="527.0" cy="411.5" r="3.35" fill="url(#oxy)"/>
<circle cx="548.0" cy="413.0" r="3.35" fill="url(#oxy)"/>
<text x="55.3" y="390.0" font-size="18.9" fill="#000" textLength="183.0" lengthAdjust="spacingAndGlyphs" >4-MBA (Raman Marker)</text>
<text x="55.3" y="456.4" font-size="18.7" fill="#000" textLength="125.0" lengthAdjust="spacingAndGlyphs" >Isolated Au NPs</text>
<text x="50.8" y="491.8" font-size="17.9" fill="#000" textLength="147.0" lengthAdjust="spacingAndGlyphs" >CNS Base Material</text>
<text x="59.3" y="515.9" font-size="16.3" fill="#000" textLength="70.5" lengthAdjust="spacingAndGlyphs" >0D- GQDs</text>
<text x="59.3" y="536.7" font-size="16.3" fill="#000" textLength="66.5" lengthAdjust="spacingAndGlyphs" >1D- CNTs</text>
<text x="59.3" y="556.9" font-size="16.3" fill="#000" textLength="121.0" lengthAdjust="spacingAndGlyphs" >2D- GO and RGO</text>
<text x="59.3" y="577.5" font-size="16.3" fill="#000" textLength="59.0" lengthAdjust="spacingAndGlyphs" >3D- GHs</text>
<line x1="201.79999999999998" y1="400" x2="248" y2="400" stroke="#000" stroke-width="3"/>
<path transform="translate(191.2,400)" d="M0,0 C5.4,-3.1 15.0,-6.8 21.5,-9.0 L20.5,-7.1 C16.1,-4.0 16.6,-1 13.6,-0.6 L13.6,1.2 C12.1,3.2 11.1,6.4 10.6,8.0 C7.9,4.4 4.2,1.6 0,0 Z" fill="#000"/>
<line x1="203.7" y1="460.2" x2="294" y2="460.2" stroke="#000" stroke-width="2.6"/>
<path transform="translate(183,460.2)" d="M0,0 C10.7,-2.6 29.9,-5.5 42.7,-7.3 L41.7,-5.4 C32.0,-3.3 26.7,-1 23.7,-0.6 L23.7,1.2 C22.2,2.5 21.2,5.0 20.7,6.2 C15.5,3.4 8.3,1.2 0,0 Z" fill="#000"/>
<line x1="207.6" y1="495.6" x2="297" y2="495.6" stroke="#000" stroke-width="2.6"/>
<path transform="translate(192.2,495.6)" d="M0,0 C9.2,-2.7 25.8,-5.8 36.8,-7.8 L35.8,-5.9 C27.6,-3.5 21.4,-1 18.4,-0.6 L18.4,1.2 C16.9,2.3 15.9,4.6 15.4,5.8 C11.6,3.2 6.2,1.2 0,0 Z" fill="#000"/>
<line x1="96.8" y1="127" x2="96.8" y2="278" stroke="#f0f0f0" stroke-width="1"/>
</svg>
</body></html>
